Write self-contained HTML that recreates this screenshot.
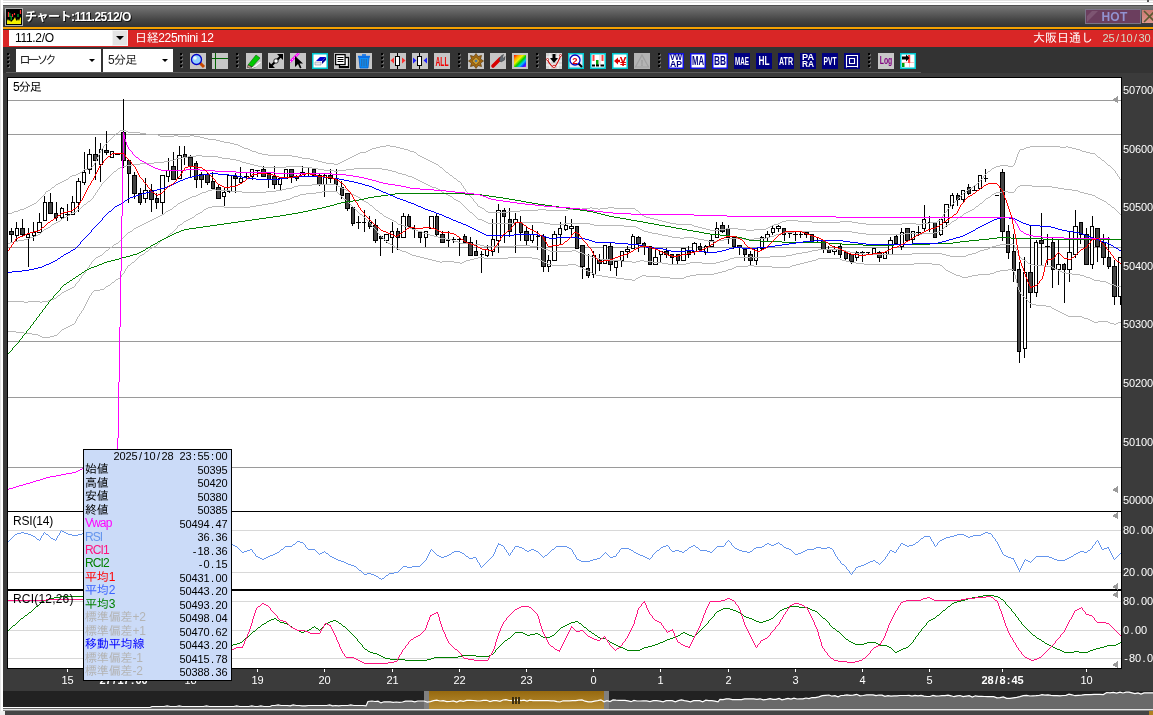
<!DOCTYPE html>
<html lang="ja"><head><meta charset="utf-8"><title>チャート:111.2512/O</title>
<style>
*{margin:0;padding:0;box-sizing:border-box}
html,body{width:1153px;height:715px;overflow:hidden;background:#3b3b3b}
body{position:relative;font-family:"Liberation Sans","IPAGothic",sans-serif;font-size:12px;line-height:1}
div,i,svg,span{position:absolute;display:block}
#top0{left:0;top:0;width:1153px;height:5px;background:#fff}
#top0 b{position:absolute;left:0;width:100%;height:1px;background:#e2e2e2}
#left0{left:0;top:0;width:3px;height:711px;background:#fff;border-left:1px solid #e6e6e6}
#title{left:3px;top:5px;width:1150px;height:22px;background:linear-gradient(#767676,#5c5c5c 35%,#424242 70%,#323232);border-top:1px solid #4e4e4e}
#ttext{left:25px;top:11px;color:#fff;font-weight:bold;font-size:12px;white-space:nowrap;text-shadow:1px 1px 0 #111;letter-spacing:-.5px;font-family:"Liberation Sans","Noto Sans CJK JP",sans-serif}
#orange{left:3px;top:27px;width:1150px;height:2px;background:#f5a100}
#dk{left:3px;top:29px;width:1150px;height:1px;background:#2c2c2c}
#red{left:3px;top:30px;width:1150px;height:17px;background:#d92626}
#code{left:6px;top:0;width:119px;height:16px;background:#fff;color:#000;padding:2px 0 0 6px;font-size:12px;letter-spacing:-.3px}
#codebtn{left:109px;top:0;width:16px;height:16px;background:#e4e4e4;border:1px solid #f4f4f4}
.arr{width:0;height:0;border-left:4px solid transparent;border-right:4px solid transparent;border-top:4px solid #000}
#rname{left:132px;top:2px;color:#fff;white-space:nowrap;font-size:12px;letter-spacing:-.35px}
#rright{right:60px;top:2px;color:#fff;white-space:nowrap;font-size:12px}
#tb{left:3px;top:47px;width:1150px;height:26px;background:#333}
#tbl{left:6px;top:72px;width:915px;height:1px;background:#5c5c5c}
.sel{top:49px;height:23px;background:#fff;color:#222;padding:5px 0 0 6px;font-size:12px}
.ic{top:53px}
.gd{width:2px;height:2px;background:#000;box-shadow:1px 1px 0 #6a6a6a}
#plot{left:7px;top:77px;width:1115px;height:592px;background:#fff;border:1px solid #000}
#csvg{left:0;top:0}
.plab{color:#000;font-size:12px;white-space:nowrap}
#info{left:83px;top:449px;width:149px;height:232px;background:#cbdbf8;border:1px solid #000}
#info .l{left:1px;font-size:12px;white-space:nowrap}
#app{left:0;top:0;width:1153px;height:715px;will-change:transform}
.tk{top:669px;width:1px;height:3px;background:#fff}
#ovbg{left:3px;top:691px;width:1150px;height:18px;background:#222}
#ovl{left:3px;top:709px;width:1150px;height:1px;background:#e8e8e8}
#ovl2{left:3px;top:710px;width:1150px;height:1px;background:#8a8a8a}
#bot{left:0;top:711px;width:1153px;height:4px;background:#454545}
#thumb{left:424px;top:691px;width:185px;height:18px;background:linear-gradient(#96690f,#b98f35);border-left:5px solid #808080;border-right:5px solid #808080}
#gripm i{position:absolute;top:697px;width:1.5px;height:7px;background:#3e3010}
#hot{left:1085px;top:9px;width:56px;height:15px;background:#6b3e5e;border:1px solid #7a7488;color:#9292d0;font-weight:bold;font-size:12px;text-align:center;padding-top:1px;padding-left:3px;letter-spacing:.3px}
#close{left:1142px;top:10px;width:11px;height:13px;background:linear-gradient(#c87870,#e09890)}
</style></head><body>
<div id="app">
<div id="top0"><b style="top:0"></b><b style="top:2px;background:#dedede"></b><b style="top:0;left:1147px;width:2px;height:2px;background:#555"></b></div>
<div id="title"></div>
<svg style="left:5px;top:8px" width="18" height="18" viewBox="0 0 18 18"><rect x=".5" y=".5" width="17" height="17" fill="#000" stroke="#b0b0b0"/><path d="M2 16 V13 L3 11 L4 13 L5 12 L6 14 L8 12 L9 11 L10 9 L11 12 L12 13 L13 11 L14 13 L15 10 L16 9 V16Z" fill="#f4f000"/><path d="M3.5 4V9 M7.5 6V9 M9.5 5V7 M15.5 2V6" stroke="#ff3030" stroke-width="1.2"/><path d="M4.8 5V9 M6.2 8V12 M13 6V9" stroke="#00b030" stroke-width="1.2"/></svg>
<div id="ttext">チャート:111.2512/O</div>
<div id="hot">HOT</div><svg style="left:1087px;top:11px" width="12" height="12"><path d="M0 11 L11 0 L5 0 L0 5Z" fill="#7d5572"/></svg>
<div id="close"></div><svg style="left:1143px;top:10px" width="10" height="13"><path d="M1 1 L12 12 M1 12 L12 1" stroke="#5c5a32" stroke-width="1.6"/></svg>
<div id="orange"></div><div id="dk"></div>
<div id="red"><div id="code">111.2/O</div><div id="codebtn"><i class="arr" style="left:3px;top:5px"></i></div><div id="rname">日経225mini 12</div><div id="rright">大阪日通し</div></div>
<div id="tb"></div><div id="tbl"></div>
<i class="gd" style="left:7px;top:53px"></i><i class="gd" style="left:7px;top:57px"></i><i class="gd" style="left:7px;top:61px"></i><i class="gd" style="left:7px;top:65px"></i>
<div class="sel" style="left:16px;width:85px;padding-left:3px;letter-spacing:-3.3px">ローソク<i class="arr" style="left:73px;top:10px;border-width:3px 3px 0 3px;border-top-width:3px"></i></div>
<div class="sel" style="left:103px;width:70px;padding-left:5px;letter-spacing:-.7px">5分足<i class="arr" style="left:59px;top:10px;border-width:3px 3px 0 3px"></i></div>
<i class="gd" style="left:180px;top:53px"></i><i class="gd" style="left:180px;top:57px"></i><i class="gd" style="left:180px;top:61px"></i><i class="gd" style="left:180px;top:65px"></i><svg class="ic" style="left:190px" width="16" height="16" viewBox="0 0 16 16"><rect width="16" height="16" fill="#c6c6c6"/><line x1="9.5" y1="9.5" x2="14" y2="14" stroke="#c84800" stroke-width="3"/><circle cx="6.5" cy="6.5" r="5" fill="#8fd0ff" stroke="#0000c8" stroke-width="1.3"/><circle cx="5" cy="5" r="1.8" fill="#e8f6ff"/></svg><svg class="ic" style="left:212px" width="16" height="16" viewBox="0 0 16 16"><rect width="16" height="16" fill="#c6c6c6"/><rect x="3" y="0" width="1" height="16" fill="#006400"/><rect x="0" y="5" width="16" height="1" fill="#006400"/></svg><i class="gd" style="left:236px;top:53px"></i><i class="gd" style="left:236px;top:57px"></i><i class="gd" style="left:236px;top:61px"></i><i class="gd" style="left:236px;top:65px"></i><svg class="ic" style="left:246px" width="16" height="16" viewBox="0 0 16 16"><rect width="16" height="16" fill="#c6c6c6"/><path d="M3 14.5 Q7 15.5 9 13.5 T14.5 9" fill="none" stroke="#fff" stroke-width="1.1"/><path d="M3 15.3 Q7 16 9.5 14.2" fill="none" stroke="#444" stroke-width=".5"/><path d="M2 12 L10 2 L14 5 L6 14 Z" fill="#00c800" stroke="#006400" stroke-width=".6"/><path d="M2 12 L6 14 L1.5 14.5Z" fill="#f0c0a0" stroke="#000" stroke-width=".5"/></svg><svg class="ic" style="left:268px" width="16" height="16" viewBox="0 0 16 16"><rect width="16" height="16" fill="#c6c6c6"/><line x1="3" y1="13" x2="13" y2="3" stroke="#000" stroke-width="2.2"/><path d="M15 1 L15 7 L9 1Z M1 15 L1 9 L7 15Z" fill="#000"/><circle cx="8" cy="8" r="2.2" fill="#fff" stroke="#000" stroke-width=".8"/></svg><svg class="ic" style="left:290px" width="16" height="16" viewBox="0 0 16 16"><rect width="16" height="16" fill="#c6c6c6"/><line x1="0" y1="9" x2="9" y2="0" stroke="#ff00ff" stroke-width="2.4"/><line x1="0" y1="9" x2="9" y2="0" stroke="#fff" stroke-width=".8" stroke-dasharray="1.5 1.5"/><path d="M5 3 L5 14 L8 11 L10 15.5 L11.5 14.8 L9.6 10.5 L13 10.5Z" fill="#000"/></svg><svg class="ic" style="left:312px" width="16" height="16" viewBox="0 0 16 16"><rect width="16" height="16" fill="#00c8d0"/><rect x="1.5" y="1.5" width="13" height="13" fill="#fff"/><path d="M4 8 L8 4 L14 4 L10 8Z" fill="#0000d0"/><path d="M10 8 L14 4 L14 7 L10 11Z" fill="#000090"/><path d="M3 9 L9 9 L9 12 L3 12Z" fill="#e8e8f0" stroke="#9090a0" stroke-width=".6"/></svg><svg class="ic" style="left:334px" width="16" height="16" viewBox="0 0 16 16"><rect width="16" height="16" fill="#c6c6c6"/><rect x="5.5" y="4.5" width="9" height="10" fill="#fff" stroke="#000" stroke-width="1.3"/><rect x="5" y="13" width="10" height="2" fill="#000"/><rect x="1.6" y="1.6" width="9.5" height="10" fill="#fff" stroke="#000" stroke-width="1.3"/><path d="M3.5 4.5H9.5 M3.5 6.5H9.5 M3.5 8.5H9.5" stroke="#000" stroke-width="1"/></svg><svg class="ic" style="left:356px" width="16" height="16" viewBox="0 0 16 16"><rect width="16" height="16" fill="#c6c6c6"/><path d="M3 4.5 L13 4.5 L12 15 L4 15Z" fill="#0a90ff" stroke="#0058c8" stroke-width=".8"/><rect x="2" y="2.8" width="12" height="1.8" fill="#0a70e8"/><rect x="6" y="1.2" width="4" height="1.6" fill="#0a70e8"/><path d="M5.8 6V13.5 M8 6V13.5 M10.2 6V13.5" stroke="#44506a" stroke-width=".7"/></svg><i class="gd" style="left:381px;top:53px"></i><i class="gd" style="left:381px;top:57px"></i><i class="gd" style="left:381px;top:61px"></i><i class="gd" style="left:381px;top:65px"></i><svg class="ic" style="left:390px" width="16" height="16" viewBox="0 0 16 16"><rect width="16" height="16" fill="#c6c6c6"/><path d="M0.5 7.5 L4 4.5 L4 10.5Z M15.5 7.5 L12 4.5 L12 10.5Z" fill="#ff3030"/><rect x="7" y="0" width="1" height="16" fill="#000"/><rect x="5.5" y="3.5" width="4" height="9" fill="#fff" stroke="#000" stroke-width="1"/></svg><svg class="ic" style="left:412px" width="16" height="16" viewBox="0 0 16 16"><rect width="16" height="16" fill="#c6c6c6"/><path d="M4.5 7.5 L1 4.5 L1 10.5Z M11.5 7.5 L15 4.5 L15 10.5Z" fill="#2020ff"/><rect x="7" y="0" width="1" height="16" fill="#000"/><rect x="5.5" y="3.5" width="4" height="9" fill="#fff" stroke="#000" stroke-width="1"/></svg><svg class="ic" style="left:434px" width="16" height="16" viewBox="0 0 16 16"><rect width="16" height="16" fill="#c6c6c6"/><text x="8" y="12.5" font-size="12" text-anchor="middle" fill="#f00000" font-family="Liberation Sans, sans-serif" font-weight="bold" textLength="13" lengthAdjust="spacingAndGlyphs">ALL</text></svg><i class="gd" style="left:458px;top:53px"></i><i class="gd" style="left:458px;top:57px"></i><i class="gd" style="left:458px;top:61px"></i><i class="gd" style="left:458px;top:65px"></i><svg class="ic" style="left:468px" width="16" height="16" viewBox="0 0 16 16"><rect width="16" height="16" fill="#c6c6c6"/><path d="M8 0.5 L10 3.5 L13.5 2.5 L12.5 6 L15.5 8 L12.5 10 L13.5 13.5 L10 12.5 L8 15.5 L6 12.5 L2.5 13.5 L3.5 10 L0.5 8 L3.5 6 L2.5 2.5 L6 3.5Z" fill="#a86a10" stroke="#5a3a08" stroke-width=".7"/><rect x="5" y="5" width="6" height="6" fill="#c89a30" stroke="#5a3a08" stroke-width=".6" transform="rotate(45 8 8)"/><circle cx="8" cy="8" r="1.3" fill="#4878a8"/></svg><svg class="ic" style="left:490px" width="16" height="16" viewBox="0 0 16 16"><rect width="16" height="16" fill="#c6c6c6"/><line x1="3" y1="13" x2="10" y2="6" stroke="#d80000" stroke-width="3.6" stroke-linecap="round"/><path d="M9 7 L11 3 L13.5 1.5 L12.5 4 L14 5.5 L15 3.5 L14.5 7 L11 9Z" fill="#606870" stroke="#303438" stroke-width=".5"/></svg><svg class="ic" style="left:512px" width="16" height="16" viewBox="0 0 16 16"><rect width="16" height="16" fill="#c6c6c6"/><defs><linearGradient id="rb" x1="0" y1="0" x2="1" y2="1"><stop offset="0" stop-color="#ff0000"/><stop offset=".2" stop-color="#ffa000"/><stop offset=".38" stop-color="#f0f000"/><stop offset=".55" stop-color="#00d000"/><stop offset=".7" stop-color="#00c0ff"/><stop offset=".85" stop-color="#2020ff"/><stop offset="1" stop-color="#e000e0"/></linearGradient></defs><rect x="2" y="2" width="12" height="12" fill="url(#rb)"/></svg><i class="gd" style="left:536px;top:53px"></i><i class="gd" style="left:536px;top:57px"></i><i class="gd" style="left:536px;top:61px"></i><i class="gd" style="left:536px;top:65px"></i><svg class="ic" style="left:546px" width="16" height="16" viewBox="0 0 16 16"><rect width="16" height="16" fill="#d4d4d4"/><path d="M0 4H16 M0 8H16 M0 12H16 M4 0V16 M8 0V16 M12 0V16" stroke="#fff" stroke-width=".8"/><path d="M1 6 C4 12 6 14 8 14 C11 13 13 6 15 2" fill="none" stroke="#d00000" stroke-width="1.1"/><path d="M6.5 1 H9.5 V5 H12 L8 10 L4 5 H6.5Z" fill="#000"/><circle cx="8" cy="13.5" r="1.3" fill="#fff" stroke="#d00000" stroke-width=".8"/><circle cx="1.5" cy="6.5" r="1" fill="#fff" stroke="#d00000" stroke-width=".7"/><circle cx="14.5" cy="2.5" r="1" fill="#fff" stroke="#d00000" stroke-width=".7"/></svg><svg class="ic" style="left:568px" width="16" height="16" viewBox="0 0 16 16"><rect width="16" height="16" fill="#00c8d0"/><rect x="1.5" y="1.5" width="13" height="13" fill="#e8e8f8"/><line x1="10" y1="10" x2="14" y2="14" stroke="#000" stroke-width="2.2"/><circle cx="7" cy="7" r="5" fill="#fff" stroke="#0000c0" stroke-width="1.3"/><text x="7" y="10.5" font-size="9.5" text-anchor="middle" fill="#e00000" font-family="Liberation Sans, sans-serif" font-weight="bold">2</text></svg><svg class="ic" style="left:590px" width="16" height="16" viewBox="0 0 16 16"><rect width="16" height="16" fill="#00c8d0"/><rect x="1.5" y="1.5" width="13" height="13" fill="#fff"/><rect x="2.5" y="2" width="2" height="6" fill="#ff4040"/><rect x="11.5" y="2" width="2" height="6" fill="#ff4040"/><rect x="6" y="7" width="2.5" height="5" fill="#00a000"/><rect x="9.5" y="2" width="1" height="10" fill="#d0d0d0"/><rect x="2" y="11.5" width="3" height="2" fill="#000"/><rect x="6" y="11.5" width="3" height="2" fill="#000"/><rect x="10.5" y="11.5" width="3.5" height="2" fill="#000"/></svg><svg class="ic" style="left:612px" width="16" height="16" viewBox="0 0 16 16"><rect width="16" height="16" fill="#00c8d0"/><rect x="1.5" y="1.5" width="13" height="13" fill="#fff"/><path d="M2 8 L6 4.5 L6 6.8 H8 V9.2 H6 V11.5Z" fill="#e00000"/><text x="11" y="13" font-size="12" text-anchor="middle" fill="#e00000" font-family="Liberation Sans, sans-serif" font-weight="bold">¥</text></svg><svg class="ic" style="left:634px" width="16" height="16" viewBox="0 0 16 16"><rect width="16" height="16" fill="#b4b4b4"/><path d="M8 2 L14.5 14 H1.5Z" fill="none" stroke="#a0a0a0" stroke-width="1.2"/><text x="8" y="13" font-size="9" text-anchor="middle" fill="#9a9a9a" font-family="Liberation Sans, sans-serif" font-weight="bold">!</text></svg><i class="gd" style="left:658px;top:53px"></i><i class="gd" style="left:658px;top:57px"></i><i class="gd" style="left:658px;top:61px"></i><i class="gd" style="left:658px;top:65px"></i><svg class="ic" style="left:668px" width="16" height="16" viewBox="0 0 16 16"><rect width="16" height="16" fill="#1010e0"/><rect x="1.5" y="1.5" width="13" height="13" fill="#fff"/><text x="8" y="7.3" font-size="8.5" text-anchor="middle" fill="#000080" font-family="Liberation Sans, sans-serif" font-weight="bold" textLength="12" lengthAdjust="spacingAndGlyphs">VW</text><text x="8" y="14.3" font-size="8.5" text-anchor="middle" fill="#000080" font-family="Liberation Sans, sans-serif" font-weight="bold" textLength="12" lengthAdjust="spacingAndGlyphs">AP</text></svg><svg class="ic" style="left:690px" width="16" height="16" viewBox="0 0 16 16"><rect width="16" height="16" fill="#1010e0"/><rect x="1.5" y="1.5" width="13" height="13" fill="#fff"/><text x="8" y="12.2" font-size="12" text-anchor="middle" fill="#000080" font-family="Liberation Sans, sans-serif" font-weight="bold" textLength="12" lengthAdjust="spacingAndGlyphs">MA</text></svg><svg class="ic" style="left:712px" width="16" height="16" viewBox="0 0 16 16"><rect width="16" height="16" fill="#1010e0"/><rect x="1.5" y="1.5" width="13" height="13" fill="#fff"/><text x="8" y="12.2" font-size="12" text-anchor="middle" fill="#000080" font-family="Liberation Sans, sans-serif" font-weight="bold" textLength="12" lengthAdjust="spacingAndGlyphs">BB</text></svg><svg class="ic" style="left:734px" width="16" height="16" viewBox="0 0 16 16"><rect width="16" height="16" fill="#000080"/><text x="8" y="12.2" font-size="11.5" text-anchor="middle" fill="#fff" font-family="Liberation Sans, sans-serif" font-weight="bold" textLength="14" lengthAdjust="spacingAndGlyphs">MAE</text></svg><svg class="ic" style="left:756px" width="16" height="16" viewBox="0 0 16 16"><rect width="16" height="16" fill="#000080"/><text x="8" y="12.2" font-size="12.5" text-anchor="middle" fill="#fff" font-family="Liberation Sans, sans-serif" font-weight="bold" textLength="11" lengthAdjust="spacingAndGlyphs">HL</text></svg><svg class="ic" style="left:778px" width="16" height="16" viewBox="0 0 16 16"><rect width="16" height="16" fill="#000080"/><text x="8" y="12.2" font-size="11.5" text-anchor="middle" fill="#fff" font-family="Liberation Sans, sans-serif" font-weight="bold" textLength="14" lengthAdjust="spacingAndGlyphs">ATR</text></svg><svg class="ic" style="left:800px" width="16" height="16" viewBox="0 0 16 16"><rect width="16" height="16" fill="#000080"/><text x="8" y="7.3" font-size="8.5" text-anchor="middle" fill="#fff" font-family="Liberation Sans, sans-serif" font-weight="bold" textLength="12" lengthAdjust="spacingAndGlyphs">PA</text><text x="8" y="14.3" font-size="8.5" text-anchor="middle" fill="#fff" font-family="Liberation Sans, sans-serif" font-weight="bold" textLength="12" lengthAdjust="spacingAndGlyphs">RA</text></svg><svg class="ic" style="left:822px" width="16" height="16" viewBox="0 0 16 16"><rect width="16" height="16" fill="#000080"/><text x="8" y="12.2" font-size="11.5" text-anchor="middle" fill="#fff" font-family="Liberation Sans, sans-serif" font-weight="bold" textLength="13" lengthAdjust="spacingAndGlyphs">PVT</text></svg><svg class="ic" style="left:844px" width="16" height="16" viewBox="0 0 16 16"><rect width="16" height="16" fill="#000080"/><path d="M2.5 14.5 V2.5 H13.5 V14.5 M2 13.5H14" fill="none" stroke="#fff" stroke-width="1.1"/><rect x="5.5" y="5.5" width="5" height="5" fill="none" stroke="#fff" stroke-width="1.1"/></svg><i class="gd" style="left:868px;top:53px"></i><i class="gd" style="left:868px;top:57px"></i><i class="gd" style="left:868px;top:61px"></i><i class="gd" style="left:868px;top:65px"></i><svg class="ic" style="left:878px" width="16" height="16" viewBox="0 0 16 16"><rect width="16" height="16" fill="#c8c8c8"/><text x="8" y="11" font-size="11" text-anchor="middle" fill="#800080" font-family="Liberation Sans, sans-serif" font-weight="bold" textLength="12.5" lengthAdjust="spacingAndGlyphs">Log</text></svg><svg class="ic" style="left:900px" width="16" height="16" viewBox="0 0 16 16"><rect width="16" height="16" fill="#00c8d0"/><rect x="1.5" y="1.5" width="13" height="13" fill="#fff"/><path d="M9.5 2V14 M2 9.5H14" stroke="#ffb0b0" stroke-width=".8"/><rect x="8" y="2" width="2.2" height="8" fill="#ff4040"/><rect x="2" y="10" width="2.5" height="4" fill="#00a000"/><path d="M2 3.5 H6 V1.5 L9.5 5 L6 8.5 V6.5 H2Z" fill="#000"/></svg>
<div id="plot"></div>
<svg id="csvg" width="1153" height="715" viewBox="0 0 1153 715" shape-rendering="crispEdges"><defs><clipPath id="cp"><rect x="8" y="78" width="1113" height="590"/></clipPath></defs><g clip-path="url(#cp)">
<rect x="8" y="100" width="1113" height="1" fill="#9a9a9a"/>
<rect x="8" y="134" width="1113" height="1" fill="#9a9a9a"/>
<rect x="8" y="247" width="1113" height="1" fill="#9a9a9a"/>
<rect x="8" y="341" width="1113" height="1" fill="#9a9a9a"/>
<rect x="8" y="397" width="1113" height="1" fill="#9a9a9a"/>
<rect x="8" y="467" width="1113" height="1" fill="#9a9a9a"/>
<rect x="8" y="530" width="1113" height="1" fill="#d8d8d8"/>
<rect x="8" y="572" width="1113" height="1" fill="#d8d8d8"/>
<rect x="8" y="601" width="1113" height="1" fill="#d8d8d8"/>
<rect x="8" y="630" width="1113" height="1" fill="#d8d8d8"/>
<rect x="8" y="658" width="1113" height="1" fill="#d8d8d8"/>
<g><rect x="11" y="228" width="1" height="15" fill="#000"/><rect x="9" y="231" width="5" height="4" fill="#000"/><rect x="10" y="232" width="3" height="2" fill="#444"/><rect x="16" y="222" width="1" height="19" fill="#000"/><rect x="15" y="228" width="4" height="8" fill="#000"/><rect x="16" y="229" width="2" height="6" fill="#fff"/><rect x="22" y="219" width="1" height="17" fill="#000"/><rect x="20" y="228" width="5" height="7" fill="#000"/><rect x="21" y="229" width="3" height="5" fill="#444"/><rect x="28" y="228" width="1" height="39" fill="#000"/><rect x="26" y="234" width="4" height="4" fill="#000"/><rect x="27" y="235" width="2" height="2" fill="#fff"/><rect x="33" y="222" width="1" height="19" fill="#000"/><rect x="32" y="232" width="4" height="4" fill="#000"/><rect x="33" y="233" width="2" height="2" fill="#fff"/><rect x="39" y="213" width="1" height="20" fill="#000"/><rect x="37" y="222" width="5" height="11" fill="#000"/><rect x="38" y="223" width="3" height="9" fill="#fff"/><rect x="44" y="196" width="1" height="25" fill="#000"/><rect x="43" y="202" width="4" height="19" fill="#000"/><rect x="44" y="203" width="2" height="17" fill="#fff"/><rect x="50" y="193" width="1" height="21" fill="#000"/><rect x="48" y="202" width="5" height="12" fill="#000"/><rect x="49" y="203" width="3" height="10" fill="#444"/><rect x="56" y="202" width="1" height="19" fill="#000"/><rect x="54" y="213" width="4" height="5" fill="#000"/><rect x="55" y="214" width="2" height="3" fill="#444"/><rect x="61" y="207" width="1" height="13" fill="#000"/><rect x="60" y="208" width="4" height="10" fill="#000"/><rect x="61" y="209" width="2" height="8" fill="#fff"/><rect x="67" y="204" width="1" height="17" fill="#000"/><rect x="65" y="214" width="5" height="1" fill="#000"/><rect x="72" y="196" width="1" height="19" fill="#000"/><rect x="71" y="202" width="4" height="13" fill="#000"/><rect x="72" y="203" width="2" height="11" fill="#fff"/><rect x="78" y="178" width="1" height="34" fill="#000"/><rect x="76" y="181" width="5" height="22" fill="#000"/><rect x="77" y="182" width="3" height="20" fill="#fff"/><rect x="84" y="152" width="1" height="33" fill="#000"/><rect x="82" y="172" width="4" height="11" fill="#000"/><rect x="83" y="173" width="2" height="9" fill="#fff"/><rect x="89" y="149" width="1" height="25" fill="#000"/><rect x="87" y="154" width="5" height="16" fill="#000"/><rect x="88" y="155" width="3" height="14" fill="#fff"/><rect x="95" y="137" width="1" height="43" fill="#000"/><rect x="93" y="154" width="5" height="7" fill="#000"/><rect x="94" y="155" width="3" height="5" fill="#444"/><rect x="100" y="143" width="1" height="39" fill="#000"/><rect x="99" y="149" width="4" height="16" fill="#000"/><rect x="100" y="150" width="2" height="14" fill="#fff"/><rect x="106" y="131" width="1" height="24" fill="#000"/><rect x="104" y="150" width="5" height="3" fill="#000"/><rect x="105" y="151" width="3" height="1" fill="#444"/><rect x="112" y="151" width="1" height="7" fill="#000"/><rect x="110" y="151" width="4" height="7" fill="#000"/><rect x="111" y="152" width="2" height="5" fill="#fff"/><rect x="115" y="154" width="5" height="1" fill="#000"/><rect x="123" y="99" width="1" height="69" fill="#000"/><rect x="121" y="132" width="5" height="29" fill="#000"/><rect x="122" y="133" width="3" height="27" fill="#444"/><rect x="128" y="160" width="1" height="43" fill="#000"/><rect x="127" y="160" width="4" height="14" fill="#000"/><rect x="128" y="161" width="2" height="12" fill="#444"/><rect x="134" y="172" width="1" height="27" fill="#000"/><rect x="132" y="175" width="5" height="19" fill="#000"/><rect x="133" y="176" width="3" height="17" fill="#444"/><rect x="140" y="188" width="1" height="17" fill="#000"/><rect x="138" y="193" width="4" height="10" fill="#000"/><rect x="139" y="194" width="2" height="8" fill="#444"/><rect x="145" y="178" width="1" height="25" fill="#000"/><rect x="143" y="190" width="5" height="9" fill="#000"/><rect x="144" y="191" width="3" height="7" fill="#fff"/><rect x="151" y="184" width="1" height="28" fill="#000"/><rect x="149" y="190" width="5" height="10" fill="#000"/><rect x="150" y="191" width="3" height="8" fill="#444"/><rect x="156" y="193" width="1" height="16" fill="#000"/><rect x="155" y="198" width="4" height="5" fill="#000"/><rect x="156" y="199" width="2" height="3" fill="#444"/><rect x="162" y="175" width="1" height="40" fill="#000"/><rect x="160" y="175" width="5" height="28" fill="#000"/><rect x="161" y="176" width="3" height="26" fill="#fff"/><rect x="168" y="158" width="1" height="24" fill="#000"/><rect x="166" y="170" width="4" height="7" fill="#000"/><rect x="167" y="171" width="2" height="5" fill="#fff"/><rect x="173" y="152" width="1" height="28" fill="#000"/><rect x="171" y="166" width="5" height="14" fill="#000"/><rect x="172" y="167" width="3" height="12" fill="#444"/><rect x="179" y="146" width="1" height="33" fill="#000"/><rect x="177" y="155" width="5" height="24" fill="#000"/><rect x="178" y="156" width="3" height="22" fill="#fff"/><rect x="184" y="146" width="1" height="19" fill="#000"/><rect x="183" y="154" width="4" height="4" fill="#000"/><rect x="184" y="155" width="2" height="2" fill="#444"/><rect x="190" y="155" width="1" height="22" fill="#000"/><rect x="188" y="157" width="5" height="10" fill="#000"/><rect x="189" y="158" width="3" height="8" fill="#444"/><rect x="196" y="161" width="1" height="27" fill="#000"/><rect x="194" y="163" width="4" height="17" fill="#000"/><rect x="195" y="164" width="2" height="15" fill="#444"/><rect x="201" y="172" width="1" height="16" fill="#000"/><rect x="199" y="174" width="5" height="6" fill="#000"/><rect x="200" y="175" width="3" height="4" fill="#444"/><rect x="207" y="173" width="1" height="12" fill="#000"/><rect x="205" y="174" width="5" height="9" fill="#000"/><rect x="206" y="175" width="3" height="7" fill="#444"/><rect x="212" y="172" width="1" height="17" fill="#000"/><rect x="211" y="181" width="4" height="8" fill="#000"/><rect x="212" y="182" width="2" height="6" fill="#444"/><rect x="218" y="184" width="1" height="15" fill="#000"/><rect x="216" y="187" width="5" height="12" fill="#000"/><rect x="217" y="188" width="3" height="10" fill="#444"/><rect x="224" y="188" width="1" height="18" fill="#000"/><rect x="222" y="192" width="4" height="5" fill="#000"/><rect x="223" y="193" width="2" height="3" fill="#fff"/><rect x="229" y="175" width="1" height="18" fill="#000"/><rect x="227" y="175" width="5" height="17" fill="#000"/><rect x="228" y="176" width="3" height="15" fill="#fff"/><rect x="235" y="173" width="1" height="20" fill="#000"/><rect x="233" y="176" width="5" height="3" fill="#000"/><rect x="234" y="177" width="3" height="1" fill="#444"/><rect x="240" y="167" width="1" height="16" fill="#000"/><rect x="239" y="178" width="4" height="5" fill="#000"/><rect x="240" y="179" width="2" height="3" fill="#fff"/><rect x="246" y="173" width="1" height="6" fill="#000"/><rect x="244" y="176" width="5" height="1" fill="#000"/><rect x="252" y="169" width="1" height="11" fill="#000"/><rect x="250" y="169" width="4" height="8" fill="#000"/><rect x="251" y="170" width="2" height="6" fill="#fff"/><rect x="257" y="170" width="1" height="7" fill="#000"/><rect x="255" y="170" width="5" height="1" fill="#000"/><rect x="263" y="166" width="1" height="11" fill="#000"/><rect x="261" y="169" width="5" height="8" fill="#000"/><rect x="262" y="170" width="3" height="6" fill="#444"/><rect x="268" y="172" width="1" height="16" fill="#000"/><rect x="267" y="173" width="4" height="7" fill="#000"/><rect x="268" y="174" width="2" height="5" fill="#444"/><rect x="274" y="166" width="1" height="23" fill="#000"/><rect x="272" y="176" width="5" height="9" fill="#000"/><rect x="273" y="177" width="3" height="7" fill="#444"/><rect x="280" y="178" width="1" height="12" fill="#000"/><rect x="278" y="178" width="4" height="7" fill="#000"/><rect x="279" y="179" width="2" height="5" fill="#fff"/><rect x="285" y="169" width="1" height="10" fill="#000"/><rect x="284" y="169" width="4" height="10" fill="#000"/><rect x="285" y="170" width="2" height="8" fill="#fff"/><rect x="291" y="169" width="1" height="14" fill="#000"/><rect x="289" y="169" width="5" height="8" fill="#000"/><rect x="290" y="170" width="3" height="6" fill="#444"/><rect x="296" y="175" width="1" height="6" fill="#000"/><rect x="295" y="176" width="4" height="3" fill="#000"/><rect x="296" y="177" width="2" height="1" fill="#444"/><rect x="302" y="166" width="1" height="11" fill="#000"/><rect x="300" y="172" width="5" height="5" fill="#000"/><rect x="301" y="173" width="3" height="3" fill="#fff"/><rect x="308" y="168" width="1" height="9" fill="#000"/><rect x="306" y="173" width="4" height="1" fill="#000"/><rect x="313" y="169" width="1" height="7" fill="#000"/><rect x="312" y="169" width="4" height="7" fill="#000"/><rect x="313" y="170" width="2" height="5" fill="#444"/><rect x="319" y="174" width="1" height="12" fill="#000"/><rect x="317" y="175" width="5" height="10" fill="#000"/><rect x="318" y="176" width="3" height="8" fill="#444"/><rect x="324" y="174" width="1" height="23" fill="#000"/><rect x="323" y="175" width="4" height="10" fill="#000"/><rect x="324" y="176" width="2" height="8" fill="#fff"/><rect x="330" y="169" width="1" height="14" fill="#000"/><rect x="328" y="175" width="5" height="4" fill="#000"/><rect x="329" y="176" width="3" height="2" fill="#444"/><rect x="336" y="169" width="1" height="22" fill="#000"/><rect x="334" y="178" width="4" height="7" fill="#000"/><rect x="335" y="179" width="2" height="5" fill="#444"/><rect x="341" y="181" width="1" height="18" fill="#000"/><rect x="340" y="187" width="4" height="9" fill="#000"/><rect x="341" y="188" width="2" height="7" fill="#444"/><rect x="347" y="193" width="1" height="18" fill="#000"/><rect x="345" y="193" width="5" height="16" fill="#000"/><rect x="346" y="194" width="3" height="14" fill="#444"/><rect x="352" y="207" width="1" height="19" fill="#000"/><rect x="351" y="207" width="4" height="17" fill="#000"/><rect x="352" y="208" width="2" height="15" fill="#444"/><rect x="358" y="216" width="1" height="13" fill="#000"/><rect x="356" y="222" width="5" height="1" fill="#000"/><rect x="364" y="210" width="1" height="22" fill="#000"/><rect x="362" y="222" width="4" height="1" fill="#000"/><rect x="369" y="216" width="1" height="13" fill="#000"/><rect x="368" y="222" width="4" height="5" fill="#000"/><rect x="369" y="223" width="2" height="3" fill="#444"/><rect x="375" y="219" width="1" height="24" fill="#000"/><rect x="373" y="225" width="5" height="16" fill="#000"/><rect x="374" y="226" width="3" height="14" fill="#444"/><rect x="380" y="236" width="1" height="20" fill="#000"/><rect x="379" y="236" width="4" height="3" fill="#000"/><rect x="380" y="237" width="2" height="1" fill="#444"/><rect x="386" y="234" width="1" height="9" fill="#000"/><rect x="384" y="234" width="5" height="7" fill="#000"/><rect x="385" y="235" width="3" height="5" fill="#fff"/><rect x="392" y="222" width="1" height="31" fill="#000"/><rect x="390" y="231" width="4" height="7" fill="#000"/><rect x="391" y="232" width="2" height="5" fill="#fff"/><rect x="397" y="228" width="1" height="22" fill="#000"/><rect x="396" y="231" width="4" height="7" fill="#000"/><rect x="397" y="232" width="2" height="5" fill="#444"/><rect x="403" y="213" width="1" height="25" fill="#000"/><rect x="401" y="216" width="5" height="22" fill="#000"/><rect x="402" y="217" width="3" height="20" fill="#fff"/><rect x="408" y="214" width="1" height="13" fill="#000"/><rect x="407" y="216" width="4" height="11" fill="#000"/><rect x="408" y="217" width="2" height="9" fill="#444"/><rect x="414" y="225" width="1" height="13" fill="#000"/><rect x="412" y="228" width="5" height="1" fill="#000"/><rect x="420" y="231" width="1" height="12" fill="#000"/><rect x="418" y="232" width="4" height="6" fill="#000"/><rect x="419" y="233" width="2" height="4" fill="#444"/><rect x="425" y="231" width="1" height="16" fill="#000"/><rect x="424" y="231" width="4" height="7" fill="#000"/><rect x="425" y="232" width="2" height="5" fill="#fff"/><rect x="431" y="216" width="1" height="13" fill="#000"/><rect x="429" y="216" width="5" height="13" fill="#000"/><rect x="430" y="217" width="3" height="11" fill="#fff"/><rect x="436" y="214" width="1" height="22" fill="#000"/><rect x="435" y="216" width="4" height="19" fill="#000"/><rect x="436" y="217" width="2" height="17" fill="#444"/><rect x="442" y="231" width="1" height="12" fill="#000"/><rect x="440" y="234" width="5" height="9" fill="#000"/><rect x="441" y="235" width="3" height="7" fill="#444"/><rect x="448" y="231" width="1" height="16" fill="#000"/><rect x="446" y="240" width="4" height="1" fill="#000"/><rect x="453" y="237" width="1" height="6" fill="#000"/><rect x="452" y="239" width="4" height="1" fill="#000"/><rect x="459" y="237" width="1" height="19" fill="#000"/><rect x="457" y="239" width="5" height="1" fill="#000"/><rect x="464" y="234" width="1" height="9" fill="#000"/><rect x="463" y="236" width="4" height="7" fill="#000"/><rect x="464" y="237" width="2" height="5" fill="#444"/><rect x="470" y="237" width="1" height="19" fill="#000"/><rect x="468" y="242" width="5" height="14" fill="#000"/><rect x="469" y="243" width="3" height="12" fill="#444"/><rect x="476" y="240" width="1" height="16" fill="#000"/><rect x="474" y="251" width="4" height="5" fill="#000"/><rect x="475" y="252" width="2" height="3" fill="#444"/><rect x="481" y="251" width="1" height="22" fill="#000"/><rect x="480" y="254" width="4" height="1" fill="#000"/><rect x="487" y="245" width="1" height="12" fill="#000"/><rect x="485" y="249" width="4" height="7" fill="#000"/><rect x="486" y="250" width="2" height="5" fill="#fff"/><rect x="492" y="219" width="1" height="37" fill="#000"/><rect x="491" y="239" width="4" height="13" fill="#000"/><rect x="492" y="240" width="2" height="11" fill="#fff"/><rect x="498" y="204" width="1" height="49" fill="#000"/><rect x="496" y="210" width="5" height="31" fill="#000"/><rect x="497" y="211" width="3" height="29" fill="#fff"/><rect x="504" y="208" width="1" height="35" fill="#000"/><rect x="502" y="210" width="4" height="7" fill="#000"/><rect x="503" y="211" width="2" height="5" fill="#444"/><rect x="509" y="208" width="1" height="29" fill="#000"/><rect x="508" y="219" width="4" height="13" fill="#000"/><rect x="509" y="220" width="2" height="11" fill="#444"/><rect x="515" y="213" width="1" height="40" fill="#000"/><rect x="513" y="219" width="5" height="4" fill="#000"/><rect x="514" y="220" width="3" height="2" fill="#fff"/><rect x="520" y="216" width="1" height="25" fill="#000"/><rect x="519" y="222" width="4" height="11" fill="#000"/><rect x="520" y="223" width="2" height="9" fill="#444"/><rect x="526" y="226" width="1" height="20" fill="#000"/><rect x="524" y="231" width="5" height="10" fill="#000"/><rect x="525" y="232" width="3" height="8" fill="#444"/><rect x="532" y="225" width="1" height="18" fill="#000"/><rect x="530" y="234" width="4" height="7" fill="#000"/><rect x="531" y="235" width="2" height="5" fill="#fff"/><rect x="537" y="231" width="1" height="19" fill="#000"/><rect x="536" y="236" width="4" height="1" fill="#000"/><rect x="543" y="234" width="1" height="38" fill="#000"/><rect x="541" y="236" width="5" height="31" fill="#000"/><rect x="542" y="237" width="3" height="29" fill="#444"/><rect x="548" y="255" width="1" height="17" fill="#000"/><rect x="547" y="260" width="4" height="7" fill="#000"/><rect x="548" y="261" width="2" height="5" fill="#fff"/><rect x="554" y="231" width="1" height="30" fill="#000"/><rect x="552" y="234" width="5" height="27" fill="#000"/><rect x="553" y="235" width="3" height="25" fill="#fff"/><rect x="560" y="222" width="1" height="23" fill="#000"/><rect x="558" y="228" width="4" height="7" fill="#000"/><rect x="559" y="229" width="2" height="5" fill="#fff"/><rect x="565" y="216" width="1" height="15" fill="#000"/><rect x="564" y="225" width="4" height="5" fill="#000"/><rect x="565" y="226" width="2" height="3" fill="#fff"/><rect x="571" y="219" width="1" height="18" fill="#000"/><rect x="569" y="226" width="5" height="3" fill="#000"/><rect x="570" y="227" width="3" height="1" fill="#fff"/><rect x="576" y="226" width="1" height="23" fill="#000"/><rect x="575" y="226" width="4" height="23" fill="#000"/><rect x="576" y="227" width="2" height="21" fill="#444"/><rect x="582" y="245" width="1" height="34" fill="#000"/><rect x="580" y="245" width="5" height="22" fill="#000"/><rect x="581" y="246" width="3" height="20" fill="#444"/><rect x="588" y="254" width="1" height="24" fill="#000"/><rect x="586" y="268" width="4" height="8" fill="#000"/><rect x="587" y="269" width="2" height="6" fill="#444"/><rect x="593" y="251" width="1" height="27" fill="#000"/><rect x="592" y="255" width="4" height="20" fill="#000"/><rect x="593" y="256" width="2" height="18" fill="#fff"/><rect x="599" y="254" width="1" height="17" fill="#000"/><rect x="597" y="260" width="5" height="4" fill="#000"/><rect x="598" y="261" width="3" height="2" fill="#444"/><rect x="604" y="245" width="1" height="19" fill="#000"/><rect x="603" y="245" width="4" height="19" fill="#000"/><rect x="604" y="246" width="2" height="17" fill="#fff"/><rect x="610" y="243" width="1" height="28" fill="#000"/><rect x="608" y="246" width="5" height="19" fill="#000"/><rect x="609" y="247" width="3" height="17" fill="#444"/><rect x="616" y="261" width="1" height="15" fill="#000"/><rect x="614" y="261" width="4" height="7" fill="#000"/><rect x="615" y="262" width="2" height="5" fill="#fff"/><rect x="621" y="251" width="1" height="16" fill="#000"/><rect x="620" y="251" width="4" height="10" fill="#000"/><rect x="621" y="252" width="2" height="8" fill="#fff"/><rect x="627" y="246" width="1" height="12" fill="#000"/><rect x="625" y="249" width="5" height="3" fill="#000"/><rect x="626" y="250" width="3" height="1" fill="#fff"/><rect x="632" y="234" width="1" height="15" fill="#000"/><rect x="631" y="236" width="4" height="13" fill="#000"/><rect x="632" y="237" width="2" height="11" fill="#fff"/><rect x="638" y="236" width="1" height="16" fill="#000"/><rect x="636" y="237" width="5" height="7" fill="#000"/><rect x="637" y="238" width="3" height="5" fill="#444"/><rect x="644" y="242" width="1" height="13" fill="#000"/><rect x="642" y="243" width="4" height="4" fill="#000"/><rect x="643" y="244" width="2" height="2" fill="#444"/><rect x="649" y="246" width="1" height="19" fill="#000"/><rect x="648" y="246" width="4" height="19" fill="#000"/><rect x="649" y="247" width="2" height="17" fill="#444"/><rect x="655" y="249" width="1" height="16" fill="#000"/><rect x="653" y="257" width="5" height="8" fill="#000"/><rect x="654" y="258" width="3" height="6" fill="#fff"/><rect x="660" y="251" width="1" height="11" fill="#000"/><rect x="659" y="251" width="4" height="4" fill="#000"/><rect x="660" y="252" width="2" height="2" fill="#fff"/><rect x="666" y="248" width="1" height="10" fill="#000"/><rect x="664" y="251" width="5" height="4" fill="#000"/><rect x="665" y="252" width="3" height="2" fill="#444"/><rect x="672" y="254" width="1" height="11" fill="#000"/><rect x="670" y="254" width="4" height="4" fill="#000"/><rect x="671" y="255" width="2" height="2" fill="#444"/><rect x="677" y="254" width="1" height="11" fill="#000"/><rect x="676" y="254" width="4" height="7" fill="#000"/><rect x="677" y="255" width="2" height="5" fill="#444"/><rect x="683" y="248" width="1" height="13" fill="#000"/><rect x="681" y="248" width="5" height="13" fill="#000"/><rect x="682" y="249" width="3" height="11" fill="#fff"/><rect x="688" y="246" width="1" height="12" fill="#000"/><rect x="687" y="251" width="4" height="4" fill="#000"/><rect x="688" y="252" width="2" height="2" fill="#444"/><rect x="694" y="242" width="1" height="13" fill="#000"/><rect x="692" y="243" width="5" height="9" fill="#000"/><rect x="693" y="244" width="3" height="7" fill="#fff"/><rect x="700" y="243" width="1" height="9" fill="#000"/><rect x="698" y="246" width="4" height="4" fill="#000"/><rect x="699" y="247" width="2" height="2" fill="#444"/><rect x="705" y="245" width="1" height="10" fill="#000"/><rect x="704" y="246" width="4" height="7" fill="#000"/><rect x="705" y="247" width="2" height="5" fill="#fff"/><rect x="711" y="234" width="1" height="13" fill="#000"/><rect x="709" y="240" width="5" height="7" fill="#000"/><rect x="710" y="241" width="3" height="5" fill="#fff"/><rect x="716" y="222" width="1" height="16" fill="#000"/><rect x="715" y="228" width="4" height="10" fill="#000"/><rect x="716" y="229" width="2" height="8" fill="#fff"/><rect x="722" y="222" width="1" height="11" fill="#000"/><rect x="720" y="225" width="5" height="7" fill="#000"/><rect x="721" y="226" width="3" height="5" fill="#444"/><rect x="728" y="225" width="1" height="19" fill="#000"/><rect x="726" y="228" width="4" height="10" fill="#000"/><rect x="727" y="229" width="2" height="8" fill="#444"/><rect x="733" y="236" width="1" height="13" fill="#000"/><rect x="732" y="237" width="4" height="10" fill="#000"/><rect x="733" y="238" width="2" height="8" fill="#444"/><rect x="739" y="245" width="1" height="10" fill="#000"/><rect x="737" y="245" width="5" height="3" fill="#000"/><rect x="738" y="246" width="3" height="1" fill="#444"/><rect x="744" y="248" width="1" height="13" fill="#000"/><rect x="743" y="249" width="4" height="6" fill="#000"/><rect x="744" y="250" width="2" height="4" fill="#444"/><rect x="750" y="251" width="1" height="14" fill="#000"/><rect x="748" y="254" width="5" height="7" fill="#000"/><rect x="749" y="255" width="3" height="5" fill="#444"/><rect x="756" y="248" width="1" height="17" fill="#000"/><rect x="754" y="248" width="4" height="13" fill="#000"/><rect x="755" y="249" width="2" height="11" fill="#fff"/><rect x="761" y="236" width="1" height="14" fill="#000"/><rect x="760" y="237" width="4" height="12" fill="#000"/><rect x="761" y="238" width="2" height="10" fill="#fff"/><rect x="767" y="231" width="1" height="10" fill="#000"/><rect x="765" y="234" width="5" height="4" fill="#000"/><rect x="766" y="235" width="3" height="2" fill="#fff"/><rect x="772" y="225" width="1" height="10" fill="#000"/><rect x="771" y="228" width="4" height="5" fill="#000"/><rect x="772" y="229" width="2" height="3" fill="#fff"/><rect x="778" y="225" width="1" height="7" fill="#000"/><rect x="776" y="226" width="5" height="3" fill="#000"/><rect x="777" y="227" width="3" height="1" fill="#fff"/><rect x="784" y="228" width="1" height="13" fill="#000"/><rect x="782" y="228" width="4" height="7" fill="#000"/><rect x="783" y="229" width="2" height="5" fill="#444"/><rect x="789" y="231" width="1" height="7" fill="#000"/><rect x="788" y="233" width="4" height="1" fill="#000"/><rect x="795" y="232" width="1" height="9" fill="#000"/><rect x="793" y="234" width="5" height="1" fill="#000"/><rect x="800" y="232" width="1" height="6" fill="#000"/><rect x="799" y="234" width="4" height="1" fill="#000"/><rect x="806" y="232" width="1" height="6" fill="#000"/><rect x="804" y="232" width="5" height="3" fill="#000"/><rect x="805" y="233" width="3" height="1" fill="#444"/><rect x="812" y="234" width="1" height="8" fill="#000"/><rect x="810" y="234" width="4" height="8" fill="#000"/><rect x="811" y="235" width="2" height="6" fill="#444"/><rect x="817" y="237" width="1" height="5" fill="#000"/><rect x="816" y="240" width="4" height="1" fill="#000"/><rect x="823" y="240" width="1" height="13" fill="#000"/><rect x="821" y="240" width="5" height="10" fill="#000"/><rect x="822" y="241" width="3" height="8" fill="#444"/><rect x="828" y="246" width="1" height="7" fill="#000"/><rect x="827" y="249" width="4" height="4" fill="#000"/><rect x="828" y="250" width="2" height="2" fill="#444"/><rect x="834" y="246" width="1" height="9" fill="#000"/><rect x="832" y="249" width="5" height="3" fill="#000"/><rect x="833" y="250" width="3" height="1" fill="#fff"/><rect x="840" y="243" width="1" height="15" fill="#000"/><rect x="838" y="246" width="4" height="9" fill="#000"/><rect x="839" y="247" width="2" height="7" fill="#444"/><rect x="845" y="251" width="1" height="10" fill="#000"/><rect x="844" y="252" width="4" height="7" fill="#000"/><rect x="845" y="253" width="2" height="5" fill="#444"/><rect x="851" y="254" width="1" height="10" fill="#000"/><rect x="849" y="254" width="5" height="8" fill="#000"/><rect x="850" y="255" width="3" height="6" fill="#444"/><rect x="856" y="251" width="1" height="10" fill="#000"/><rect x="855" y="252" width="4" height="6" fill="#000"/><rect x="856" y="253" width="2" height="4" fill="#fff"/><rect x="862" y="251" width="1" height="11" fill="#000"/><rect x="860" y="252" width="5" height="1" fill="#000"/><rect x="868" y="252" width="1" height="3" fill="#000"/><rect x="866" y="252" width="4" height="1" fill="#000"/><rect x="873" y="248" width="1" height="7" fill="#000"/><rect x="872" y="248" width="4" height="7" fill="#000"/><rect x="873" y="249" width="2" height="5" fill="#fff"/><rect x="879" y="251" width="1" height="11" fill="#000"/><rect x="877" y="252" width="5" height="6" fill="#000"/><rect x="878" y="253" width="3" height="4" fill="#444"/><rect x="884" y="252" width="1" height="7" fill="#000"/><rect x="883" y="252" width="4" height="7" fill="#000"/><rect x="884" y="253" width="2" height="5" fill="#fff"/><rect x="890" y="237" width="1" height="18" fill="#000"/><rect x="888" y="240" width="5" height="15" fill="#000"/><rect x="889" y="241" width="3" height="13" fill="#fff"/><rect x="896" y="234" width="1" height="10" fill="#000"/><rect x="894" y="236" width="4" height="8" fill="#000"/><rect x="895" y="237" width="2" height="6" fill="#444"/><rect x="901" y="228" width="1" height="22" fill="#000"/><rect x="900" y="232" width="4" height="15" fill="#000"/><rect x="901" y="233" width="2" height="13" fill="#fff"/><rect x="907" y="228" width="1" height="13" fill="#000"/><rect x="905" y="228" width="5" height="13" fill="#000"/><rect x="906" y="229" width="3" height="11" fill="#444"/><rect x="912" y="231" width="1" height="12" fill="#000"/><rect x="911" y="231" width="4" height="9" fill="#000"/><rect x="912" y="232" width="2" height="7" fill="#fff"/><rect x="918" y="226" width="1" height="10" fill="#000"/><rect x="916" y="232" width="5" height="1" fill="#000"/><rect x="924" y="205" width="1" height="26" fill="#000"/><rect x="922" y="219" width="4" height="10" fill="#000"/><rect x="923" y="220" width="2" height="8" fill="#fff"/><rect x="929" y="216" width="1" height="16" fill="#000"/><rect x="928" y="222" width="4" height="1" fill="#000"/><rect x="935" y="222" width="1" height="16" fill="#000"/><rect x="933" y="222" width="4" height="16" fill="#000"/><rect x="934" y="223" width="2" height="14" fill="#444"/><rect x="940" y="219" width="1" height="17" fill="#000"/><rect x="939" y="219" width="4" height="16" fill="#000"/><rect x="940" y="220" width="2" height="14" fill="#fff"/><rect x="946" y="204" width="1" height="23" fill="#000"/><rect x="944" y="204" width="5" height="19" fill="#000"/><rect x="945" y="205" width="3" height="17" fill="#fff"/><rect x="952" y="193" width="1" height="16" fill="#000"/><rect x="950" y="195" width="4" height="11" fill="#000"/><rect x="951" y="196" width="2" height="9" fill="#fff"/><rect x="957" y="193" width="1" height="13" fill="#000"/><rect x="956" y="195" width="4" height="5" fill="#000"/><rect x="957" y="196" width="2" height="3" fill="#444"/><rect x="963" y="190" width="1" height="12" fill="#000"/><rect x="961" y="190" width="4" height="10" fill="#000"/><rect x="962" y="191" width="2" height="8" fill="#fff"/><rect x="968" y="184" width="1" height="11" fill="#000"/><rect x="967" y="187" width="4" height="7" fill="#000"/><rect x="968" y="188" width="2" height="5" fill="#444"/><rect x="974" y="185" width="1" height="6" fill="#000"/><rect x="972" y="190" width="5" height="1" fill="#000"/><rect x="980" y="175" width="1" height="14" fill="#000"/><rect x="978" y="175" width="4" height="14" fill="#000"/><rect x="979" y="176" width="2" height="12" fill="#fff"/><rect x="985" y="169" width="1" height="13" fill="#000"/><rect x="984" y="178" width="4" height="1" fill="#000"/><rect x="995" y="195" width="4" height="1" fill="#000"/><rect x="1002" y="169" width="1" height="72" fill="#000"/><rect x="1000" y="172" width="5" height="60" fill="#000"/><rect x="1001" y="173" width="3" height="58" fill="#444"/><rect x="1008" y="225" width="1" height="34" fill="#000"/><rect x="1006" y="231" width="4" height="22" fill="#000"/><rect x="1007" y="232" width="2" height="20" fill="#444"/><rect x="1013" y="234" width="1" height="48" fill="#000"/><rect x="1012" y="251" width="4" height="20" fill="#000"/><rect x="1013" y="252" width="2" height="18" fill="#444"/><rect x="1019" y="262" width="1" height="101" fill="#000"/><rect x="1017" y="269" width="4" height="83" fill="#000"/><rect x="1018" y="270" width="2" height="81" fill="#444"/><rect x="1024" y="257" width="1" height="101" fill="#000"/><rect x="1023" y="272" width="4" height="77" fill="#000"/><rect x="1024" y="273" width="2" height="75" fill="#fff"/><rect x="1030" y="225" width="1" height="83" fill="#000"/><rect x="1028" y="272" width="5" height="21" fill="#000"/><rect x="1029" y="273" width="3" height="19" fill="#444"/><rect x="1036" y="240" width="1" height="57" fill="#000"/><rect x="1034" y="242" width="4" height="51" fill="#000"/><rect x="1035" y="243" width="2" height="49" fill="#fff"/><rect x="1041" y="213" width="1" height="52" fill="#000"/><rect x="1039" y="240" width="5" height="4" fill="#000"/><rect x="1040" y="241" width="3" height="2" fill="#444"/><rect x="1047" y="234" width="1" height="31" fill="#000"/><rect x="1045" y="246" width="5" height="1" fill="#000"/><rect x="1052" y="238" width="1" height="50" fill="#000"/><rect x="1051" y="242" width="4" height="28" fill="#000"/><rect x="1052" y="243" width="2" height="26" fill="#444"/><rect x="1058" y="239" width="1" height="46" fill="#000"/><rect x="1056" y="264" width="5" height="6" fill="#000"/><rect x="1057" y="265" width="3" height="4" fill="#fff"/><rect x="1064" y="263" width="1" height="40" fill="#000"/><rect x="1062" y="264" width="4" height="6" fill="#000"/><rect x="1063" y="265" width="2" height="4" fill="#444"/><rect x="1069" y="232" width="1" height="50" fill="#000"/><rect x="1067" y="252" width="5" height="18" fill="#000"/><rect x="1068" y="253" width="3" height="16" fill="#fff"/><rect x="1075" y="210" width="1" height="48" fill="#000"/><rect x="1073" y="226" width="5" height="29" fill="#000"/><rect x="1074" y="227" width="3" height="27" fill="#fff"/><rect x="1080" y="222" width="1" height="22" fill="#000"/><rect x="1079" y="222" width="4" height="13" fill="#000"/><rect x="1080" y="223" width="2" height="11" fill="#444"/><rect x="1086" y="228" width="1" height="37" fill="#000"/><rect x="1084" y="234" width="5" height="31" fill="#000"/><rect x="1085" y="235" width="3" height="29" fill="#444"/><rect x="1092" y="216" width="1" height="53" fill="#000"/><rect x="1090" y="226" width="4" height="39" fill="#000"/><rect x="1091" y="227" width="2" height="37" fill="#fff"/><rect x="1097" y="228" width="1" height="34" fill="#000"/><rect x="1095" y="228" width="5" height="19" fill="#000"/><rect x="1096" y="229" width="3" height="17" fill="#444"/><rect x="1103" y="234" width="1" height="31" fill="#000"/><rect x="1101" y="242" width="5" height="16" fill="#000"/><rect x="1102" y="243" width="3" height="14" fill="#444"/><rect x="1108" y="237" width="1" height="32" fill="#000"/><rect x="1107" y="257" width="4" height="10" fill="#000"/><rect x="1108" y="258" width="2" height="8" fill="#444"/><rect x="1114" y="260" width="1" height="45" fill="#000"/><rect x="1112" y="266" width="5" height="31" fill="#000"/><rect x="1113" y="267" width="3" height="29" fill="#444"/><rect x="1120" y="257" width="1" height="48" fill="#000"/><rect x="1118" y="257" width="4" height="40" fill="#000"/><rect x="1119" y="258" width="2" height="38" fill="#fff"/></g>
<path d="M120 130.5h6M119.5 131v1M126 131.5h2M118.5 132v1M128 132.5h12M116 133.5h2M140 133.5h6M115.5 134v1M146 134.5h12M114.5 135v1M158 135.5h2M174 135.5h4M190 135.5h4M113.5 136v1M160 136.5h14M178 136.5h12M194 136.5h6M112.5 137v1M200 137.5h4M111.5 138v1M204 138.5h4M110.5 139v1M208 139.5h8M109.5 140v1M216 140.5h4M108.5 141v1M220 141.5h4M107.5 142v1M224 142.5h6M106.5 143v1M230 143.5h4M105.5 144v1M234 144.5h4M104.5 145v1M238 145.5h2M386 145.5h4M103.5 146v2M240 146.5h2M380 146.5h6M390 146.5h6M1030 146.5h30M1066 146.5h2M242 147.5h2M376 147.5h4M396 147.5h4M1026 147.5h4M1060 147.5h6M1068 147.5h4M102.5 148v1M244 148.5h4M372 148.5h4M400 148.5h4M1024 148.5h2M1072 148.5h4M101.5 149v2M248 149.5h2M370 149.5h2M404 149.5h4M1020 149.5h4M1076 149.5h4M250 150.5h2M368 150.5h2M408 150.5h2M1019.5 150v2M1080 150.5h2M100.5 151v2M252 151.5h4M366 151.5h2M410 151.5h4M1082 151.5h4M256 152.5h2M360 152.5h6M414 152.5h2M1018.5 152v2M1086 152.5h4M99.5 153v2M258 153.5h4M358 153.5h2M416.5 153v1M1090 153.5h5M262 154.5h6M356 154.5h2M417.5 154v1M1017.5 154v3M1095.5 154v1M98.5 155v2M268 155.5h24M354 155.5h2M418 155.5h2M1096.5 155v1M292 156.5h6M352 156.5h2M420 156.5h2M1097.5 156v1M97.5 157v2M298 157.5h4M350 157.5h2M422 157.5h2M1016.5 157v3M1098 157.5h2M302 158.5h8M348 158.5h2M424 158.5h2M1100.5 158v1M96.5 159v2M310 159.5h4M346 159.5h2M426 159.5h2M1101.5 159v1M314 160.5h4M344 160.5h2M428 160.5h2M1015.5 160v3M1102 160.5h2M95.5 161v2M318 161.5h4M342 161.5h2M430 161.5h2M1104.5 161v1M322 162.5h4M340 162.5h2M432 162.5h2M1105.5 162v1M94.5 163v2M326 163.5h8M338 163.5h2M434 163.5h2M1014.5 163v2M1106.5 163v1M334 164.5h4M436 164.5h2M1107.5 164v1M93.5 165v1M438.5 165v1M1000 165.5h8M1013.5 165v1M1108 165.5h2M92.5 166v1M439.5 166v1M996 166.5h4M1008 166.5h5M1110.5 166v1M91.5 167v1M440 167.5h2M994 167.5h2M1111.5 167v1M88 168.5h3M442.5 168v1M992 168.5h2M1112.5 168v1M84 169.5h4M443.5 169v1M991.5 169v1M1113.5 169v1M83.5 170v1M444.5 170v1M990.5 170v1M1114.5 170v1M82.5 171v1M445.5 171v1M988 171.5h2M1115.5 171v2M80 172.5h2M446 172.5h2M987.5 172v1M78 173.5h2M448.5 173v1M986.5 173v1M1116.5 173v1M76 174.5h2M449.5 174v1M985.5 174v1M1117.5 174v2M72 175.5h4M450 175.5h2M984.5 175v1M70 176.5h2M452.5 176v1M983.5 176v2M1118.5 176v1M69.5 177v1M453.5 177v1M1119.5 177v2M68.5 178v1M454 178.5h2M982.5 178v1M66 179.5h2M456.5 179v1M981.5 179v1M1120.5 179v1M64 180.5h2M457.5 180v1M980.5 180v1M62 181.5h2M458 181.5h2M979.5 181v1M60 182.5h2M460.5 182v1M978.5 182v1M58 183.5h2M461.5 183v2M977.5 183v1M56 184.5h2M976.5 184v1M55.5 185v1M462.5 185v1M974 185.5h2M54.5 186v1M463.5 186v2M973.5 186v1M52 187.5h2M972.5 187v1M51.5 188v1M464.5 188v1M970 188.5h2M50.5 189v1M465.5 189v2M968 189.5h2M48 190.5h2M967.5 190v1M46 191.5h2M466.5 191v1M966.5 191v1M45.5 192v2M467.5 192v1M964 192.5h2M468.5 193v1M963.5 193v1M44.5 194v1M469.5 194v2M962.5 194v1M43.5 195v1M961.5 195v1M42.5 196v1M470.5 196v1M960.5 196v1M41.5 197v1M471.5 197v1M959.5 197v1M40.5 198v1M472.5 198v1M958.5 198v1M39.5 199v1M473.5 199v2M957.5 199v1M38.5 200v1M956.5 200v1M37.5 201v1M474.5 201v1M955.5 201v1M36.5 202v1M475.5 202v1M954.5 202v1M34 203.5h2M476.5 203v1M953.5 203v1M32 204.5h2M477.5 204v2M952.5 204v1M30 205.5h2M951.5 205v1M28 206.5h2M478 206.5h2M950.5 206v1M26 207.5h2M480 207.5h2M590 207.5h2M608 207.5h6M949.5 207v1M24 208.5h2M482 208.5h2M582 208.5h8M592 208.5h6M600 208.5h8M614 208.5h21M948.5 208v1M20 209.5h4M484.5 209v1M538 209.5h8M568 209.5h14M598 209.5h2M635.5 209v1M947.5 209v2M18 210.5h2M485.5 210v1M520 210.5h18M546 210.5h22M636 210.5h2M14 211.5h4M486 211.5h2M508 211.5h12M638.5 211v1M946.5 211v1M12 212.5h2M488 212.5h20M639.5 212v1M945.5 212v1M8 213.5h4M640.5 213v1M944.5 213v1M641.5 214v1M943.5 214v2M642 215.5h2M644 216.5h2M942.5 216v1M646 217.5h4M941.5 217v2M650 218.5h4M654 219.5h4M940.5 219v1M658 220.5h4M786 220.5h12M938 220.5h2M662 221.5h4M782 221.5h4M798 221.5h14M840 221.5h12M937.5 221v1M666 222.5h4M780 222.5h2M812 222.5h28M852 222.5h6M930 222.5h7M670 223.5h6M778 223.5h2M858 223.5h8M902 223.5h14M922 223.5h8M676 224.5h16M774 224.5h4M866 224.5h36M916 224.5h6M692 225.5h2M772 225.5h2M694 226.5h4M770 226.5h2M698 227.5h4M768 227.5h2M702 228.5h4M726 228.5h12M766 228.5h2M706 229.5h4M720 229.5h6M738 229.5h8M754 229.5h12M710 230.5h10M746 230.5h8" fill="none" stroke="#b8b8b8" stroke-width="1" />
<path d="M196 155.5h6M188 156.5h8M202 156.5h16M182 157.5h6M218 157.5h4M176 158.5h6M222 158.5h8M174 159.5h2M230 159.5h6M170 160.5h4M236 160.5h4M164 161.5h6M240 161.5h2M154 162.5h10M242 162.5h4M140 163.5h14M246 163.5h4M132 164.5h8M250 164.5h4M126 165.5h6M254 165.5h4M122 166.5h4M258 166.5h4M286 166.5h16M120 167.5h2M262 167.5h24M302 167.5h10M118 168.5h2M312 168.5h6M354 168.5h28M117.5 169v1M318 169.5h6M346 169.5h8M382 169.5h6M116.5 170v1M324 170.5h10M338 170.5h8M388 170.5h4M114 171.5h2M334 171.5h4M392 171.5h4M113.5 172v1M396 172.5h2M112.5 173v1M398 173.5h4M111.5 174v1M402 174.5h4M110.5 175v1M406 175.5h2M109.5 176v1M408 176.5h4M108.5 177v1M412 177.5h2M107.5 178v1M414 178.5h2M106.5 179v1M416 179.5h2M105.5 180v1M418 180.5h2M104.5 181v1M420 181.5h2M103.5 182v1M422 182.5h2M102.5 183v1M424 183.5h2M101.5 184v2M426 184.5h2M428 185.5h2M1020 185.5h12M100.5 186v1M430 186.5h2M1018 186.5h2M1032 186.5h20M99.5 187v2M432 187.5h4M1017.5 187v1M1052 187.5h6M436 188.5h2M1016.5 188v1M1058 188.5h6M98.5 189v1M438 189.5h2M1015.5 189v2M1064 189.5h8M97.5 190v2M440.5 190v1M1072 190.5h6M441.5 191v1M1002 191.5h6M1014.5 191v1M1078 191.5h2M96.5 192v1M442 192.5h2M996 192.5h6M1008 192.5h6M1080 192.5h4M95.5 193v2M444 193.5h2M994 193.5h2M1084 193.5h4M446 194.5h2M992 194.5h2M1088 194.5h4M94.5 195v1M448 195.5h2M991.5 195v1M1092 195.5h3M93.5 196v2M450 196.5h2M990.5 196v1M1095.5 196v1M452.5 197v1M988 197.5h2M1096 197.5h2M92.5 198v1M453.5 198v1M986 198.5h2M1098 198.5h2M91.5 199v1M454 199.5h2M985.5 199v1M1100 199.5h2M90.5 200v1M456 200.5h2M984.5 200v1M1102 200.5h2M88 201.5h2M458 201.5h2M983.5 201v1M1104 201.5h2M87.5 202v1M460.5 202v1M982.5 202v1M1106.5 202v1M86.5 203v1M461.5 203v1M980 203.5h2M1107.5 203v1M84 204.5h2M462.5 204v1M979.5 204v1M1108 204.5h2M83.5 205v1M463.5 205v1M978.5 205v1M1110.5 205v1M82.5 206v1M464.5 206v1M976 206.5h2M1111.5 206v1M81.5 207v1M465.5 207v1M975.5 207v1M1112 207.5h2M80.5 208v1M466.5 208v1M974.5 208v1M1114.5 208v1M78 209.5h2M467.5 209v1M972 209.5h2M1115.5 209v1M77.5 210v1M468.5 210v1M970 210.5h2M1116.5 210v1M76.5 211v1M469.5 211v1M968 211.5h2M1117.5 211v1M72 212.5h4M470 212.5h2M966 212.5h2M1118.5 212v1M71.5 213v1M472.5 213v1M964 213.5h2M1119.5 213v1M70.5 214v1M473.5 214v1M963.5 214v1M1120.5 214v1M68 215.5h2M474.5 215v1M962.5 215v1M66 216.5h2M475.5 216v1M960 216.5h2M64 217.5h2M476.5 217v1M958 217.5h2M62 218.5h2M477.5 218v1M957.5 218v1M61.5 219v1M478 219.5h4M956.5 219v1M60.5 220v1M482 220.5h2M954 220.5h2M58 221.5h2M484 221.5h2M952 221.5h2M56 222.5h2M486 222.5h2M514 222.5h30M951.5 222v1M54 223.5h2M488 223.5h26M544 223.5h6M564 223.5h26M950.5 223v1M52 224.5h2M550 224.5h14M590 224.5h4M948 224.5h2M51.5 225v1M594 225.5h30M946 225.5h2M50.5 226v1M624 226.5h12M945.5 226v1M48 227.5h2M636 227.5h2M944.5 227v1M46 228.5h2M638 228.5h2M943.5 228v1M44 229.5h2M640 229.5h2M942.5 229v1M43.5 230v1M642 230.5h2M940 230.5h2M42.5 231v1M644 231.5h4M794 231.5h58M938 231.5h2M41.5 232v1M648 232.5h4M784 232.5h10M852 232.5h6M934 232.5h4M40.5 233v1M652 233.5h6M780 233.5h4M858 233.5h8M904 233.5h12M922 233.5h12M38 234.5h2M658 234.5h4M776 234.5h4M866 234.5h38M916 234.5h6M36 235.5h2M662 235.5h6M774 235.5h2M34 236.5h2M668 236.5h4M770 236.5h4M30 237.5h4M672 237.5h8M684 237.5h10M766 237.5h4M28 238.5h2M680 238.5h4M694 238.5h4M728 238.5h16M754 238.5h12M24 239.5h4M698 239.5h6M724 239.5h4M744 239.5h10M18 240.5h6M704 240.5h4M718 240.5h6M14 241.5h4M708 241.5h10M10 242.5h4M8 243.5h2" fill="none" stroke="#b8b8b8" stroke-width="1" />
<path d="M312 184.5h24M298 185.5h14M336 185.5h2M294 186.5h4M338 186.5h2M292 187.5h2M340 187.5h2M286 188.5h6M342 188.5h2M212 189.5h4M282 189.5h4M344 189.5h2M208 190.5h4M216 190.5h14M276 190.5h6M346 190.5h2M206 191.5h2M230 191.5h12M266 191.5h10M348 191.5h2M202 192.5h4M242 192.5h24M350.5 192v1M200 193.5h2M351.5 193v1M198 194.5h2M352 194.5h2M196 195.5h2M354 195.5h2M192 196.5h4M356 196.5h2M190 197.5h2M358 197.5h2M188 198.5h2M360.5 198v1M186 199.5h2M361.5 199v1M184 200.5h2M362 200.5h2M182 201.5h2M364 201.5h2M180 202.5h2M366 202.5h2M178 203.5h2M368.5 203v1M177.5 204v1M369.5 204v1M176.5 205v1M370 205.5h2M174 206.5h2M372.5 206v1M173.5 207v1M373.5 207v1M172.5 208v1M374.5 208v1M170 209.5h2M375.5 209v1M168 210.5h2M376 210.5h2M166 211.5h2M378.5 211v1M165.5 212v1M379.5 212v1M164.5 213v1M380 213.5h2M162 214.5h2M382.5 214v1M160 215.5h2M383.5 215v1M158 216.5h2M384 216.5h2M156 217.5h2M386 217.5h2M154 218.5h2M388 218.5h2M152 219.5h2M390 219.5h2M150 220.5h2M392 220.5h2M148 221.5h2M394 221.5h2M146 222.5h2M396.5 222v1M144 223.5h2M397.5 223v1M142 224.5h2M398 224.5h4M140 225.5h2M402 225.5h2M138 226.5h2M404 226.5h4M136 227.5h2M408 227.5h2M134 228.5h2M410 228.5h2M133.5 229v1M412 229.5h4M132.5 230v1M416 230.5h2M130 231.5h2M418 231.5h4M128 232.5h2M422 232.5h2M127.5 233v1M424 233.5h4M126.5 234v1M428 234.5h2M125.5 235v1M430 235.5h4M124.5 236v1M434 236.5h4M123.5 237v1M438 237.5h2M122.5 238v1M440 238.5h6M121.5 239v1M446 239.5h6M120.5 240v1M452 240.5h2M119.5 241v1M454 241.5h4M118.5 242v1M458 242.5h2M116 243.5h2M460 243.5h12M1012.5 243v1M114 244.5h2M472 244.5h8M1000 244.5h12M1013.5 244v1M113.5 245v1M480 245.5h4M514 245.5h16M996 245.5h4M1014.5 245v2M112.5 246v1M484 246.5h30M530 246.5h8M992 246.5h4M110 247.5h2M538 247.5h4M990 247.5h2M1015.5 247v2M109.5 248v1M542 248.5h2M988 248.5h2M108.5 249v1M544 249.5h4M818 249.5h24M984 249.5h4M1016.5 249v2M106 250.5h2M548 250.5h2M572 250.5h4M812 250.5h6M842 250.5h4M980 250.5h4M105.5 251v1M550 251.5h22M576 251.5h2M808 251.5h4M846 251.5h4M978 251.5h2M1017.5 251v2M104.5 252v1M578 252.5h4M802 252.5h6M850 252.5h6M976 252.5h2M103.5 253v1M582 253.5h2M796 253.5h6M856 253.5h8M912 253.5h30M972 253.5h4M1018.5 253v2M102.5 254v1M584 254.5h2M792 254.5h4M864 254.5h48M942 254.5h4M968 254.5h4M100 255.5h2M586 255.5h4M786 255.5h6M946 255.5h4M966 255.5h2M1019.5 255v2M98 256.5h2M590 256.5h2M750 256.5h2M770 256.5h16M950 256.5h16M96 257.5h2M592 257.5h4M734 257.5h16M752 257.5h18M1020.5 257v1M95.5 258v1M596 258.5h4M730 258.5h4M1021.5 258v1M94.5 259v1M600 259.5h10M728 259.5h2M1022 259.5h2M93.5 260v1M610 260.5h12M640 260.5h4M724 260.5h4M1024 260.5h2M92.5 261v1M622 261.5h10M636 261.5h4M644 261.5h8M720 261.5h4M1026.5 261v1M91.5 262v2M632 262.5h4M652 262.5h10M690 262.5h12M716 262.5h4M1027.5 262v1M662 263.5h6M686 263.5h4M702 263.5h14M1028 263.5h2M90.5 264v1M668 264.5h18M1030 264.5h4M89.5 265v2M1034 265.5h10M1044 266.5h8M88.5 267v1M1052 267.5h2M87.5 268v2M1054 268.5h2M1056 269.5h2M86.5 270v1M1058 270.5h2M85.5 271v2M1060 271.5h2M1062 272.5h4M84.5 273v1M1066 273.5h6M83.5 274v1M1072 274.5h8M82.5 275v1M1080 275.5h4M81.5 276v2M1084 276.5h2M1086 277.5h4M80.5 278v1M1090 278.5h2M79.5 279v2M1092 279.5h2M1094 280.5h6M78.5 281v1M1100 281.5h6M77.5 282v1M1106 282.5h2M76.5 283v1M1108 283.5h2M75.5 284v2M1110 284.5h4M1114 285.5h2M74.5 286v1M1116 286.5h5M72 287.5h2M70 288.5h2M68 289.5h2M66 290.5h2M64 291.5h2M62 292.5h2M61.5 293v1M60.5 294v1M58 295.5h2M57.5 296v1M56.5 297v1M54 298.5h2M50 299.5h4M48 300.5h2M8 301.5h16M28 301.5h12M42 301.5h6M24 302.5h4M40 302.5h2" fill="none" stroke="#b8b8b8" stroke-width="1" />
<path d="M322 191.5h15M316 192.5h6M337.5 192v1M306 193.5h10M338.5 193v1M300 194.5h6M339.5 194v1M298 195.5h2M340.5 195v1M294 196.5h4M341.5 196v1M292 197.5h2M342.5 197v1M290 198.5h2M343.5 198v1M286 199.5h4M344 199.5h2M282 200.5h4M346.5 200v1M278 201.5h4M347.5 201v1M274 202.5h4M348.5 202v1M268 203.5h6M349.5 203v1M262 204.5h6M350.5 204v1M256 205.5h6M351.5 205v1M212 206.5h12M250 206.5h6M352.5 206v1M208 207.5h4M224 207.5h26M353.5 207v1M206 208.5h2M354.5 208v1M204 209.5h2M355.5 209v1M203.5 210v1M356.5 210v1M202.5 211v1M357.5 211v1M200 212.5h2M358.5 212v1M198 213.5h2M359.5 213v1M196 214.5h2M360 214.5h2M195.5 215v1M362.5 215v1M194.5 216v1M363.5 216v1M192 217.5h2M364.5 217v1M190 218.5h2M365.5 218v1M188 219.5h2M366.5 219v1M186 220.5h2M367.5 220v1M184 221.5h2M368.5 221v1M183.5 222v1M369.5 222v1M182.5 223v1M370.5 223v1M180 224.5h2M371.5 224v2M178 225.5h2M177.5 226v2M372.5 226v1M373.5 227v1M176.5 228v1M374.5 228v1M175.5 229v1M375.5 229v1M174.5 230v1M376.5 230v1M173.5 231v1M377.5 231v2M172.5 232v1M170 233.5h2M378.5 233v1M169.5 234v1M379.5 234v1M168.5 235v1M380.5 235v1M167.5 236v1M381.5 236v1M166.5 237v1M382.5 237v1M164 238.5h2M383.5 238v1M162 239.5h2M384.5 239v1M161.5 240v1M385.5 240v1M160.5 241v1M386.5 241v1M159.5 242v1M387.5 242v1M158.5 243v1M388 243.5h2M157.5 244v1M390 244.5h2M156.5 245v1M392 245.5h2M154 246.5h2M394.5 246v1M152 247.5h2M395.5 247v1M150 248.5h2M396 248.5h2M149.5 249v1M398 249.5h2M148.5 250v1M400 250.5h2M146 251.5h2M402 251.5h4M145.5 252v1M406 252.5h2M144.5 253v1M408 253.5h2M142 254.5h2M410 254.5h2M140 255.5h2M412 255.5h4M139.5 256v1M416 256.5h4M138.5 257v1M420 257.5h4M478 257.5h6M508 257.5h24M137.5 258v1M424 258.5h4M474 258.5h4M484 258.5h24M532 258.5h6M818 258.5h22M136.5 259v1M428 259.5h4M470 259.5h4M538 259.5h2M816 259.5h2M840 259.5h2M135.5 260v1M432 260.5h4M466 260.5h4M540 260.5h2M812 260.5h4M842 260.5h4M134.5 261v1M436 261.5h4M442 261.5h12M464 261.5h2M542 261.5h2M808 261.5h4M846 261.5h4M132 262.5h2M440 262.5h2M454 262.5h6M462 262.5h2M544 262.5h2M804 262.5h4M850 262.5h6M131.5 263v1M460 263.5h2M546 263.5h2M800 263.5h4M856 263.5h8M914 263.5h18M130.5 264v1M548 264.5h4M568 264.5h8M796 264.5h4M864 264.5h50M932 264.5h8M128 265.5h2M552 265.5h16M576 265.5h2M748 265.5h6M792 265.5h4M940 265.5h2M127.5 266v2M578 266.5h2M736 266.5h12M754 266.5h18M790 266.5h2M942.5 266v1M580 267.5h2M734 267.5h2M772 267.5h18M943.5 267v1M126.5 268v1M582 268.5h2M732 268.5h2M944.5 268v1M125.5 269v2M584 269.5h2M728 269.5h4M945.5 269v1M1008 269.5h5M586 270.5h2M726 270.5h2M946 270.5h2M1000 270.5h8M1013.5 270v2M124.5 271v2M588 271.5h2M722 271.5h4M948 271.5h2M996 271.5h4M590 272.5h2M718 272.5h4M950 272.5h2M994 272.5h2M1014.5 272v3M123.5 273v1M592 273.5h2M714 273.5h4M952 273.5h2M990 273.5h4M122.5 274v1M594 274.5h2M696 274.5h18M954 274.5h2M978 274.5h12M121.5 275v2M596 275.5h6M642 275.5h4M690 275.5h6M956 275.5h4M972 275.5h6M1015.5 275v4M602 276.5h6M640 276.5h2M646 276.5h14M686 276.5h4M960 276.5h2M968 276.5h4M120.5 277v1M608 277.5h8M638 277.5h2M660 277.5h10M684 277.5h2M962 277.5h6M118 278.5h2M616 278.5h8M636 278.5h2M670 278.5h14M116 279.5h2M624 279.5h8M635.5 279v1M1016.5 279v4M115.5 280v1M632 280.5h3M114.5 281v1M112 282.5h2M111.5 283v1M1017.5 283v4M110.5 284v1M108 285.5h2M106 286.5h2M105.5 287v1M1018.5 287v3M104.5 288v1M100 289.5h4M94 290.5h6M1019.5 290v2M93.5 291v1M92.5 292v1M1020.5 292v2M91.5 293v2M1021.5 294v1M90.5 295v1M1022.5 295v1M89.5 296v2M1023.5 296v1M1024.5 297v1M88.5 298v2M1025.5 298v1M1026.5 299v1M87.5 300v2M1027.5 300v1M1028.5 301v1M86.5 302v2M1029.5 302v1M1030 303.5h2M85.5 304v2M1032 304.5h4M1036 305.5h10M84.5 306v2M1046 306.5h5M1051.5 307v1M83.5 308v2M1052 308.5h2M1054 309.5h2M82.5 310v1M1056 310.5h2M81.5 311v2M1058 311.5h2M1060 312.5h2M80.5 313v1M1062 313.5h2M79.5 314v2M1064 314.5h2M1066 315.5h2M78.5 316v1M1068 316.5h14M77.5 317v2M1082 317.5h2M1084 318.5h4M76.5 319v2M1088 319.5h2M1090 320.5h2M75.5 321v2M1092 321.5h2M1098 321.5h10M1094 322.5h4M1108 322.5h2M1118 322.5h3M74.5 323v1M1110 323.5h4M1116 323.5h2M72 324.5h2M1114 324.5h2M70 325.5h2M68 326.5h2M66 327.5h2M64 328.5h2M62 329.5h2M61.5 330v1M8 331.5h8M60.5 331v1M16 332.5h8M59.5 332v1M24 333.5h8M58.5 333v1M32 334.5h6M57.5 334v1M38 335.5h2M54 335.5h3M40 336.5h2M50 336.5h4M42 337.5h8" fill="none" stroke="#b8b8b8" stroke-width="1" />
<path d="M395 193.5h70M388 194.5h7M465 194.5h17M381 195.5h7M482 195.5h7M374 196.5h7M489 196.5h7M368 197.5h6M496 197.5h7M364 198.5h4M503 198.5h6M359 199.5h5M509 199.5h6M353 200.5h6M515 200.5h6M346 201.5h7M521 201.5h5M341 202.5h5M526 202.5h6M337 203.5h4M532 203.5h6M334 204.5h3M538 204.5h7M330 205.5h4M545 205.5h7M326 206.5h4M552 206.5h7M322 207.5h4M559 207.5h7M317 208.5h5M566 208.5h7M312 209.5h5M573 209.5h7M308 210.5h4M580 210.5h7M303 211.5h5M587 211.5h6M298 212.5h5M593 212.5h4M292 213.5h6M597 213.5h4M286 214.5h6M601 214.5h4M280 215.5h6M605 215.5h4M273 216.5h7M609 216.5h5M266 217.5h7M614 217.5h6M259 218.5h7M620 218.5h6M252 219.5h7M626 219.5h5M245 220.5h7M631 220.5h6M238 221.5h7M637 221.5h6M231 222.5h7M643 222.5h5M224 223.5h7M648 223.5h6M217 224.5h7M654 224.5h5M210 225.5h7M659 225.5h6M203 226.5h7M665 226.5h6M196 227.5h7M671 227.5h5M189 228.5h7M676 228.5h6M184 229.5h5M682 229.5h5M181 230.5h3M687 230.5h6M179 231.5h2M693 231.5h6M176 232.5h3M699 232.5h5M174 233.5h2M704 233.5h6M172 234.5h2M710 234.5h10M170 235.5h2M720 235.5h10M168 236.5h2M730 236.5h7M166 237.5h2M737 237.5h5M997 237.5h14M164 238.5h2M742 238.5h4M989 238.5h8M1011 238.5h32M162 239.5h2M746 239.5h3M979 239.5h10M1043 239.5h79M160 240.5h2M749 240.5h12M969 240.5h10M158 241.5h2M761 241.5h21M960 241.5h9M157.5 242v1M782 242.5h46M953 242.5h7M155 243.5h2M828 243.5h14M930 243.5h23M153 244.5h2M842 244.5h21M894 244.5h36M151 245.5h2M863 245.5h31M150.5 246v1M148 247.5h2M146 248.5h2M145.5 249v1M143 250.5h2M141 251.5h2M139 252.5h2M137 253.5h2M133 254.5h4M130 255.5h3M126 256.5h4M122 257.5h4M119 258.5h3M115 259.5h4M111 260.5h4M107 261.5h4M104 262.5h3M102 263.5h2M99 264.5h3M97 265.5h2M94 266.5h3M91 267.5h3M89 268.5h2M87 269.5h2M85 270.5h2M84.5 271v1M82 272.5h2M81.5 273v1M79 274.5h2M78.5 275v1M76 276.5h2M75.5 277v1M73 278.5h2M72.5 279v1M70 280.5h2M69.5 281v1M67 282.5h2M66.5 283v1M64 284.5h2M63.5 285v1M62.5 286v1M61.5 287v1M60.5 288v2M59.5 290v1M58.5 291v1M57.5 292v1M56.5 293v1M55.5 294v1M54.5 295v1M53.5 296v2M52.5 298v1M51.5 299v1M50.5 300v1M49.5 301v1M48.5 302v2M47.5 304v1M46.5 305v1M45.5 306v2M44.5 308v1M43.5 309v1M42.5 310v2M41.5 312v1M40.5 313v1M39.5 314v2M38.5 316v1M37.5 317v1M36.5 318v2M35.5 320v1M34.5 321v1M33.5 322v2M32.5 324v1M31.5 325v1M30.5 326v2M29.5 328v1M28.5 329v1M27.5 330v1M26.5 331v2M25.5 333v1M24.5 334v1M23.5 335v1M22.5 336v2M21.5 338v1M20.5 339v1M19.5 340v2M18.5 342v1M17.5 343v1M16.5 344v1M15.5 345v1M14.5 346v1M13.5 347v1M12.5 348v2M11.5 350v1M10.5 351v1M9.5 352v1M8.5 353v1M7.5 354v1" fill="none" stroke="#008000" stroke-width="1" />
<path d="M210 173.5h8M202 174.5h8M218 174.5h11M196 175.5h6M229 175.5h8M192 176.5h4M237 176.5h5M296 176.5h27M188 177.5h4M242 177.5h4M287 177.5h9M323 177.5h9M185 178.5h3M246 178.5h10M280 178.5h7M332 178.5h7M183 179.5h2M256 179.5h24M339 179.5h5M180 180.5h3M344 180.5h5M178 181.5h2M349 181.5h5M176 182.5h2M354 182.5h4M174 183.5h2M358 183.5h4M172 184.5h2M362 184.5h3M170 185.5h2M365 185.5h4M167 186.5h3M369 186.5h3M164 187.5h3M372 187.5h2M160 188.5h4M374 188.5h2M157 189.5h3M376 189.5h3M153 190.5h4M379 190.5h2M150 191.5h3M381 191.5h2M146 192.5h4M383 192.5h3M142 193.5h4M386 193.5h2M139 194.5h3M388 194.5h2M136 195.5h3M390 195.5h3M133 196.5h3M393 196.5h2M130 197.5h3M395 197.5h2M128 198.5h2M397 198.5h3M127.5 199v1M400 199.5h3M125 200.5h2M403 200.5h3M124.5 201v1M406 201.5h2M123.5 202v1M408 202.5h3M121 203.5h2M411 203.5h3M119 204.5h2M414 204.5h2M117 205.5h2M416 205.5h2M115 206.5h2M418 206.5h3M114.5 207v1M421 207.5h2M113.5 208v1M423 208.5h2M112.5 209v1M425 209.5h3M111.5 210v1M428 210.5h3M109 211.5h2M431 211.5h3M108.5 212v1M434 212.5h2M107.5 213v1M436 213.5h3M106.5 214v1M439 214.5h3M105.5 215v1M442 215.5h2M104.5 216v1M444 216.5h2M103.5 217v1M446 217.5h3M1001 217.5h8M102.5 218v2M449 218.5h2M997 218.5h4M1009 218.5h6M451 219.5h2M994 219.5h3M1015 219.5h2M101.5 220v1M453 220.5h3M992 220.5h2M1017 220.5h2M100.5 221v1M456 221.5h2M990 221.5h2M1019 221.5h2M99.5 222v1M458 222.5h3M988 222.5h2M1021 222.5h2M98.5 223v1M461 223.5h2M986 223.5h2M1023 223.5h3M97.5 224v1M463 224.5h3M984 224.5h2M1026 224.5h3M96.5 225v1M466 225.5h2M982 225.5h2M1029 225.5h11M95.5 226v1M468 226.5h2M980 226.5h2M1040 226.5h11M94.5 227v1M470 227.5h2M978 227.5h2M1051 227.5h4M93.5 228v1M472 228.5h2M976 228.5h2M1055 228.5h3M92.5 229v1M474 229.5h2M975.5 229v1M1058 229.5h4M91.5 230v2M476 230.5h2M973 230.5h2M1062 230.5h5M478 231.5h2M971 231.5h2M1067 231.5h7M90.5 232v1M480 232.5h2M969 232.5h2M1074 232.5h5M89.5 233v1M482 233.5h2M967 233.5h2M1079 233.5h3M88.5 234v1M484 234.5h2M514 234.5h24M965 234.5h2M1082 234.5h3M87.5 235v1M486 235.5h28M538 235.5h5M963 235.5h2M1085 235.5h2M86.5 236v1M543 236.5h3M960 236.5h3M1087 236.5h3M85.5 237v1M546 237.5h3M557 237.5h21M956 237.5h4M1090 237.5h3M84.5 238v1M549 238.5h8M578 238.5h7M953 238.5h3M1093 238.5h3M83.5 239v1M585 239.5h4M949 239.5h4M1096 239.5h3M82.5 240v1M589 240.5h3M814 240.5h29M946 240.5h3M1099 240.5h2M81.5 241v1M592 241.5h3M803 241.5h11M843 241.5h7M942 241.5h4M1101 241.5h3M80.5 242v2M595 242.5h20M796 242.5h7M850 242.5h8M938 242.5h4M1104 242.5h3M615 243.5h13M789 243.5h7M858 243.5h8M912 243.5h26M1107 243.5h2M79.5 244v1M628 244.5h11M782 244.5h7M866 244.5h46M1109 244.5h2M78.5 245v1M639 245.5h4M775 245.5h7M1111 245.5h2M77.5 246v1M643 246.5h3M768 246.5h7M1113.5 246v1M76.5 247v1M646 247.5h8M733 247.5h9M757 247.5h11M1114 247.5h2M75.5 248v1M654 248.5h9M729 248.5h4M742 248.5h15M1116 248.5h2M73 249.5h2M663 249.5h4M726 249.5h3M1118.5 249v1M71 250.5h2M667 250.5h4M686 250.5h8M722 250.5h4M1119 250.5h2M70.5 251v1M671 251.5h15M694 251.5h12M717 251.5h5M1121.5 251v1M68 252.5h2M706 252.5h11M66 253.5h2M64 254.5h2M63.5 255v1M61 256.5h2M60.5 257v1M58 258.5h2M57.5 259v1M55 260.5h2M53 261.5h2M51 262.5h2M49 263.5h2M46 264.5h3M44 265.5h2M42 266.5h2M38 267.5h4M34 268.5h4M29 269.5h5M22 270.5h7M12 271.5h10M7 272.5h5" fill="none" stroke="#0000ff" stroke-width="1" />
<path d="M123.5 132v28M124.5 135v4M125.5 139v3M126.5 142v3M127.5 145v2M128.5 147v2M129.5 149v1M130.5 150v1M131.5 151v1M132.5 152v2M133.5 154v1M134.5 155v1M135.5 156v1M136 157.5h2M138.5 158v1M139.5 159v1M122.5 160v56M140 160.5h2M142 161.5h2M144 162.5h2M146.5 163v1M147 164.5h2M149 165.5h2M151 166.5h2M153 167.5h2M155 168.5h3M158 169.5h3M186 169.5h14M161 170.5h25M200 170.5h15M215 171.5h21M236 172.5h39M275 173.5h57M332 174.5h14M346 175.5h7M353 176.5h6M359 177.5h5M364 178.5h4M368 179.5h4M372 180.5h4M376 181.5h3M379 182.5h4M383 183.5h5M388 184.5h7M395 185.5h6M401 186.5h5M406 187.5h4M410 188.5h10M420 189.5h14M434 190.5h12M446 191.5h9M455 192.5h10M465 193.5h9M474 194.5h6M480 195.5h3M483 196.5h3M486 197.5h2M488 198.5h3M491 199.5h5M496 200.5h7M503 201.5h7M510 202.5h7M517 203.5h8M525 204.5h10M535 205.5h9M544 206.5h12M556 207.5h14M570 208.5h10M580 209.5h7M587 210.5h7M594 211.5h9M603 212.5h10M613 213.5h18M631 214.5h63M694 215.5h33M121.5 216v55M727 216.5h109M836 217.5h177M1013.5 218v2M1014.5 220v1M1015.5 221v2M1016.5 223v1M1017.5 224v2M1018.5 226v2M1019.5 228v2M1020.5 230v1M1021 231.5h2M1023.5 232v1M1024 233.5h2M1026 234.5h3M1029 235.5h4M1033 236.5h9M1042 237.5h22M1064 238.5h46M120.5 271v56M119.5 327v55M118.5 382v56M117.5 438v28M109 465.5h8M96 466.5h13M87 467.5h9M82 468.5h5M80 469.5h2M78 470.5h2M76 471.5h2M72 472.5h4M66 473.5h6M61 474.5h5M56 475.5h5M50 476.5h6M46 477.5h4M43 478.5h3M40 479.5h3M36 480.5h4M33 481.5h3M30 482.5h3M26 483.5h4M23 484.5h3M19 485.5h4M16 486.5h3M13 487.5h3M9 488.5h4M7 489.5h2" fill="none" stroke="#ff00ff" stroke-width="1" />
<path d="M112 153.5h12M111.5 154v1M124.5 154v1M110.5 155v1M125.5 155v2M108 156.5h2M107.5 157v1M126.5 157v1M106.5 158v1M127.5 158v1M105.5 159v1M128.5 159v1M104.5 160v1M129.5 160v1M103.5 161v2M130.5 161v1M131.5 162v2M102.5 163v1M101.5 164v1M132.5 164v1M100.5 165v1M133.5 165v1M99.5 166v2M134.5 166v1M188 166.5h8M135.5 167v2M185 167.5h3M196 167.5h6M98.5 168v2M184.5 168v2M202.5 168v1M136.5 169v2M203 169.5h2M97.5 170v2M183.5 170v1M205.5 170v1M137.5 171v2M182.5 171v2M206.5 171v1M96.5 172v2M207.5 172v1M138.5 173v2M181.5 173v1M208.5 173v1M258 173.5h9M306 173.5h4M95.5 174v2M180.5 174v2M209.5 174v1M252 174.5h6M267 174.5h6M302 174.5h4M310 174.5h4M139.5 175v2M210.5 175v1M251.5 175v1M273 175.5h3M299 175.5h3M314 175.5h4M94.5 176v2M179.5 176v1M211.5 176v1M250.5 176v1M276 176.5h3M293 176.5h6M318 176.5h7M140.5 177v1M178.5 177v1M212.5 177v1M248 177.5h2M279 177.5h14M325 177.5h7M93.5 178v2M141.5 178v1M177.5 178v1M213.5 178v1M247.5 178v1M332 178.5h3M142.5 179v1M176.5 179v2M214.5 179v1M246.5 179v1M335 179.5h2M92.5 180v1M143.5 180v2M215.5 180v2M245.5 180v1M337 180.5h2M91.5 181v2M175.5 181v1M243 181.5h2M339.5 181v1M144.5 182v1M174.5 182v1M216.5 182v1M242.5 182v1M340 182.5h2M90.5 183v2M145.5 183v1M173.5 183v1M217.5 183v1M240 183.5h2M342.5 183v1M988 183.5h9M146.5 184v1M171 184.5h2M218 184.5h2M238 184.5h2M343.5 184v1M986 184.5h2M997.5 184v1M89.5 185v1M147.5 185v2M169 185.5h2M220 185.5h2M236 185.5h2M344.5 185v1M984 185.5h2M998.5 185v1M88.5 186v2M168.5 186v1M222 186.5h2M230 186.5h6M345.5 186v2M983.5 186v1M999.5 186v2M148.5 187v1M167.5 187v1M224 187.5h6M981 187.5h2M87.5 188v2M149.5 188v1M166.5 188v1M346.5 188v1M980.5 188v1M1000.5 188v1M150.5 189v2M165.5 189v1M347.5 189v1M979.5 189v1M1001.5 189v1M86.5 190v2M164.5 190v1M348.5 190v1M977 190.5h2M1002.5 190v2M151.5 191v1M163.5 191v1M349.5 191v1M976.5 191v1M85.5 192v2M152 192.5h2M162.5 192v1M350.5 192v2M975.5 192v1M1003.5 192v3M154.5 193v1M160 193.5h2M973 193.5h2M84.5 194v2M155 194.5h2M158 194.5h2M351.5 194v1M972.5 194v1M157.5 195v1M352.5 195v2M970 195.5h2M1004.5 195v3M83.5 196v2M968 196.5h2M353.5 197v2M967.5 197v1M82.5 198v2M966.5 198v1M1005.5 198v2M354.5 199v1M965.5 199v1M81.5 200v1M355.5 200v2M964.5 200v2M1006.5 200v3M80.5 201v2M356.5 202v1M963.5 202v1M79.5 203v2M357.5 203v2M962.5 203v1M1007.5 203v3M961.5 204v1M78.5 205v1M358.5 205v2M960.5 205v2M77.5 206v1M1008.5 206v3M76.5 207v1M359.5 207v1M959.5 207v2M74 208.5h2M360.5 208v2M73.5 209v1M958.5 209v2M1009.5 209v3M71 210.5h2M361.5 210v1M67 211.5h4M362.5 211v1M957.5 211v2M63 212.5h4M363.5 212v1M1010.5 212v3M61 213.5h2M364.5 213v2M956.5 213v1M60.5 214v1M954 214.5h2M58 215.5h2M365.5 215v1M953.5 215v1M1011.5 215v4M57.5 216v1M366.5 216v1M952.5 216v1M56.5 217v1M367.5 217v1M950 217.5h2M54 218.5h2M368.5 218v1M949.5 218v1M53.5 219v1M369.5 219v1M947 219.5h2M1012.5 219v5M51 220.5h2M370.5 220v1M946.5 220v1M50.5 221v1M371.5 221v1M944 221.5h2M48 222.5h2M372.5 222v1M515 222.5h7M943.5 222v1M47.5 223v1M373.5 223v1M514.5 223v2M522.5 223v1M942.5 223v1M46.5 224v1M374.5 224v1M523.5 224v1M940 224.5h2M1013.5 224v5M45.5 225v1M375.5 225v1M513.5 225v1M524 225.5h2M939.5 225v1M44.5 226v1M376.5 226v1M512.5 226v1M526.5 226v1M937 226.5h2M42 227.5h2M377 227.5h2M409 227.5h6M423 227.5h8M511.5 227v2M527.5 227v1M935 227.5h2M41.5 228v1M379.5 228v1M407 228.5h2M415 228.5h8M431 228.5h4M528 228.5h2M931 228.5h4M40.5 229v1M380.5 229v1M406.5 229v1M435 229.5h2M510.5 229v1M530 229.5h2M928 229.5h3M1014.5 229v5M38 230.5h2M381 230.5h2M405.5 230v1M437 230.5h2M508 230.5h2M532 230.5h2M926 230.5h2M34 231.5h4M383 231.5h3M403 231.5h2M439 231.5h2M507.5 231v1M534 231.5h2M785 231.5h17M924 231.5h2M30 232.5h4M386 232.5h2M402.5 232v1M441 232.5h9M506.5 232v1M536.5 232v1M574 232.5h3M783 232.5h2M802 232.5h3M922 232.5h2M27 233.5h3M388 233.5h3M400 233.5h2M450 233.5h4M504 233.5h2M537 233.5h2M573.5 233v1M577 233.5h2M781 233.5h2M805 233.5h2M920 233.5h2M25 234.5h2M391 234.5h2M399.5 234v1M454 234.5h2M503.5 234v1M539.5 234v1M572.5 234v1M579.5 234v2M779 234.5h2M807 234.5h3M918 234.5h2M1015.5 234v5M23 235.5h2M393 235.5h2M397 235.5h2M456.5 235v1M502.5 235v2M540 235.5h2M571.5 235v2M778.5 235v1M810 235.5h3M916 235.5h2M20 236.5h3M395 236.5h2M457 236.5h2M542.5 236v1M580.5 236v1M726 236.5h10M777.5 236v1M813 236.5h3M915.5 236v1M18 237.5h2M459.5 237v1M501.5 237v1M543.5 237v2M570.5 237v1M581.5 237v1M724 237.5h2M736 237.5h2M776.5 237v1M816 237.5h3M913 237.5h2M16 238.5h2M460.5 238v1M500.5 238v2M569.5 238v1M582.5 238v2M721 238.5h3M738 238.5h2M775.5 238v1M819 238.5h2M911 238.5h2M1096 238.5h3M15.5 239v2M461 239.5h2M544.5 239v2M568.5 239v1M719 239.5h2M740 239.5h2M774.5 239v1M821 239.5h2M910.5 239v1M1016.5 239v6M1092 239.5h4M1099.5 239v1M463.5 240v1M499.5 240v2M567.5 240v1M583.5 240v1M717 240.5h2M742.5 240v1M773.5 240v1M823 240.5h2M908 240.5h2M1091.5 240v1M1100.5 240v2M14.5 241v1M464 241.5h2M545.5 241v1M565 241.5h2M584.5 241v1M716.5 241v1M743.5 241v1M772.5 241v1M825.5 241v1M906 241.5h2M1090.5 241v2M13.5 242v2M466 242.5h2M498.5 242v1M546.5 242v2M564.5 242v1M585.5 242v1M714 242.5h2M744.5 242v2M771.5 242v1M826 242.5h2M905.5 242v1M1101.5 242v1M468 243.5h3M497.5 243v2M563.5 243v1M586.5 243v1M713.5 243v1M770.5 243v1M828.5 243v1M903 243.5h2M1089.5 243v1M1102.5 243v1M12.5 244v1M471 244.5h3M547.5 244v2M559 244.5h4M587.5 244v2M711 244.5h2M745.5 244v1M769.5 244v1M829.5 244v1M901 244.5h2M1088.5 244v1M1103.5 244v1M11.5 245v2M474 245.5h2M496.5 245v1M552 245.5h7M710.5 245v1M746.5 245v1M768.5 245v1M830 245.5h2M899 245.5h2M1017.5 245v5M1087.5 245v2M1104.5 245v1M476 246.5h2M495.5 246v1M548 246.5h4M588.5 246v1M640 246.5h9M708 246.5h2M747.5 246v1M767.5 246v1M832 246.5h2M897 246.5h2M1105.5 246v1M10.5 247v1M478 247.5h2M494.5 247v2M589.5 247v1M638 247.5h2M649 247.5h3M706 247.5h2M748 247.5h2M766.5 247v1M834 247.5h4M893 247.5h4M1085 247.5h2M1106.5 247v2M9.5 248v2M480 248.5h2M590.5 248v1M636 248.5h2M652 248.5h3M704 248.5h2M750 248.5h2M764 248.5h2M838 248.5h2M891 248.5h2M1083 248.5h2M482 249.5h6M493.5 249v1M591.5 249v2M634 249.5h2M655 249.5h3M702 249.5h2M752 249.5h2M762 249.5h2M840 249.5h2M889 249.5h2M1081 249.5h2M1107.5 249v1M8.5 250v1M488 250.5h5M633.5 250v1M658 250.5h2M699 250.5h3M754 250.5h3M760 250.5h2M842 250.5h2M887 250.5h2M1018.5 250v6M1080.5 250v1M1108.5 250v1M592.5 251v2M631 251.5h2M660 251.5h2M695 251.5h4M757 251.5h3M844 251.5h2M885 251.5h2M1079.5 251v1M1109.5 251v1M629 252.5h2M662 252.5h2M691 252.5h4M846 252.5h2M881 252.5h4M1058.5 252v1M1078.5 252v1M1110.5 252v2M593.5 253v2M627 253.5h2M664 253.5h2M687 253.5h4M848 253.5h3M873 253.5h8M1057.5 253v1M1059.5 253v1M1077.5 253v1M624 254.5h3M666 254.5h2M682 254.5h5M851 254.5h7M866 254.5h7M1056.5 254v1M1060.5 254v1M1076.5 254v1M1111.5 254v1M594.5 255v2M621 255.5h3M668 255.5h4M678 255.5h4M858 255.5h8M1055.5 255v2M1061.5 255v1M1075.5 255v1M1112.5 255v1M618 256.5h3M672 256.5h6M1019.5 256v4M1062.5 256v1M1074.5 256v1M1113.5 256v2M595.5 257v1M615 257.5h3M1054.5 257v1M1063.5 257v1M1072 257.5h2M596.5 258v1M613 258.5h2M1052 258.5h2M1064 258.5h4M1071.5 258v1M1114.5 258v1M597.5 259v1M610 259.5h3M1048 259.5h4M1068 259.5h3M1115.5 259v1M598.5 260v1M604 260.5h6M1020.5 260v3M1046 260.5h2M1116.5 260v1M599 261.5h5M1046.5 261v2M1117 261.5h2M1119.5 262v1M1021.5 263v3M1045.5 263v4M1120.5 263v1M1121.5 264v1M1022.5 266v2M1044.5 267v5M1023.5 268v3M1024.5 271v3M1043.5 272v4M1025.5 274v3M1042.5 276v3M1026.5 277v2M1027.5 279v3M1041.5 279v1M1040.5 280v1M1039.5 281v2M1028.5 282v2M1038.5 283v1M1029.5 284v2M1037.5 284v1M1035 285.5h2M1030.5 286v2M1032 286.5h3M1031.5 287v1" fill="none" stroke="#ff0000" stroke-width="1" />
<path d="M122 519.5h2M120 520.5h2M124.5 520v2M117 521.5h3M114 522.5h3M125.5 522v1M112 523.5h2M126.5 523v2M109 524.5h3M105 525.5h4M127.5 525v2M101 526.5h4M97 527.5h4M128.5 527v1M94 528.5h3M129.5 528v2M185 528.5h2M92 529.5h2M183 529.5h2M187 529.5h4M61.5 530v1M90 530.5h2M130.5 530v1M181 530.5h2M191 530.5h3M60.5 531v2M62 531.5h2M87 531.5h3M131.5 531v2M180.5 531v1M194 531.5h2M21 532.5h3M44.5 532v1M64 532.5h2M85 532.5h2M178 532.5h2M196 532.5h2M985 532.5h3M17 533.5h4M24 533.5h4M43.5 533v2M45.5 533v1M59.5 533v2M66 533.5h2M82 533.5h3M132.5 533v1M177.5 533v1M198.5 533v1M983 533.5h2M988 533.5h3M15 534.5h2M28 534.5h3M46 534.5h2M68 534.5h4M78 534.5h4M133.5 534v2M175 534.5h2M199 534.5h2M957 534.5h7M981 534.5h2M991.5 534v1M14.5 535v1M31 535.5h2M42.5 535v1M48.5 535v1M58.5 535v1M72 535.5h6M173 535.5h2M201.5 535v1M954 535.5h3M964 535.5h2M973 535.5h8M992.5 535v2M13.5 536v1M33 536.5h2M41.5 536v2M49.5 536v1M57.5 536v2M134.5 536v1M172.5 536v1M202.5 536v1M924 536.5h6M950 536.5h4M966 536.5h2M970 536.5h3M12.5 537v1M35.5 537v1M50.5 537v1M135.5 537v2M171.5 537v1M203 537.5h2M923.5 537v1M930.5 537v2M946 537.5h4M968 537.5h2M993.5 537v1M11.5 538v1M36.5 538v1M40.5 538v2M51 538.5h2M56.5 538v2M170.5 538v1M205 538.5h2M921 538.5h2M944 538.5h2M994.5 538v1M10.5 539v1M37 539.5h2M53 539.5h2M136.5 539v1M169.5 539v1M207 539.5h2M920.5 539v1M931.5 539v2M942 539.5h2M995.5 539v2M9.5 540v1M39.5 540v1M55.5 540v1M137.5 540v2M168.5 540v1M209 540.5h3M728.5 540v1M919.5 540v1M940 540.5h2M1097.5 540v1M8.5 541v1M167.5 541v1M212 541.5h3M297 541.5h3M727.5 541v1M729.5 541v1M918.5 541v1M932.5 541v1M939.5 541v1M996.5 541v1M1096.5 541v1M1098.5 541v2M138.5 542v1M166.5 542v1M215 542.5h2M296.5 542v1M300 542.5h3M726.5 542v1M730.5 542v1M778.5 542v1M916 542.5h2M933.5 542v2M938.5 542v1M997.5 542v2M1095.5 542v2M139.5 543v2M165.5 543v1M217 543.5h8M295.5 543v1M303.5 543v1M498.5 543v2M725.5 543v2M731.5 543v2M767 543.5h2M776 543.5h2M779.5 543v1M901 543.5h2M915.5 543v1M937.5 543v2M1099.5 543v2M164.5 544v1M225 544.5h8M293 544.5h2M304.5 544v1M499 544.5h2M765 544.5h2M769 544.5h2M774 544.5h2M780 544.5h2M900.5 544v2M903 544.5h2M913 544.5h2M934.5 544v2M998.5 544v2M1094.5 544v1M140.5 545v1M163.5 545v1M233 545.5h2M292.5 545v1M305.5 545v2M497.5 545v2M501 545.5h2M666 545.5h2M693 545.5h2M724.5 545v1M732.5 545v1M764.5 545v1M771 545.5h3M782.5 545v1M905 545.5h2M909 545.5h4M936.5 545v1M1093.5 545v1M1100.5 545v2M141 546.5h2M162.5 546v1M235 546.5h2M285 546.5h7M503.5 546v1M515 546.5h4M556 546.5h11M663 546.5h3M668.5 546v1M691 546.5h2M695.5 546v1M717 546.5h7M733.5 546v1M762 546.5h2M783.5 546v1M899.5 546v1M907 546.5h2M935.5 546v1M999.5 546v2M1092.5 546v2M143.5 547v1M161.5 547v1M237.5 547v1M284.5 547v1M306.5 547v1M496.5 547v2M504.5 547v2M514.5 547v2M519 547.5h3M555.5 547v1M567 547.5h2M661 547.5h2M669.5 547v2M689 547.5h2M696 547.5h2M716.5 547v1M734.5 547v1M756 547.5h6M784 547.5h2M816 547.5h5M827 547.5h3M898.5 547v2M1101.5 547v2M1107 547.5h2M144 548.5h2M159 548.5h2M238.5 548v1M283.5 548v1M307.5 548v1M522 548.5h2M554.5 548v1M569 548.5h2M621 548.5h8M660.5 548v1M688.5 548v1M698.5 548v1M715.5 548v1M735 548.5h2M754 548.5h2M786 548.5h3M814 548.5h2M821 548.5h6M830 548.5h2M1000.5 548v2M1091.5 548v1M1104 548.5h3M1108.5 548v1M146.5 549v1M157 549.5h2M239.5 549v1M250 549.5h2M281 549.5h2M308 549.5h7M431.5 549v1M495.5 549v3M505.5 549v1M513.5 549v1M524.5 549v1M531 549.5h3M552 549.5h2M571.5 549v1M620.5 549v1M629 549.5h2M659.5 549v1M670.5 549v1M687.5 549v1M699.5 549v1M714.5 549v1M737 549.5h2M753.5 549v1M789 549.5h2M807 549.5h7M832.5 549v1M897.5 549v1M1090.5 549v1M1102 549.5h2M1109.5 549v2M147.5 550v1M154 550.5h3M240.5 550v1M247 550.5h3M252.5 550v2M280.5 550v1M315.5 550v1M430.5 550v2M432.5 550v1M506.5 550v2M512.5 550v2M525 550.5h2M529 550.5h2M534 550.5h2M551.5 550v1M572.5 550v2M619.5 550v2M631 550.5h2M657 550.5h2M671.5 550v1M675 550.5h4M685 550.5h2M700 550.5h7M713.5 550v1M739 550.5h3M752.5 550v1M791.5 550v1M805 550.5h2M833.5 550v2M890 550.5h2M896.5 550v2M1001.5 550v2M1088 550.5h2M148 551.5h2M152 551.5h2M241.5 551v1M244 551.5h3M279.5 551v1M316.5 551v1M324.5 551v1M433.5 551v1M454 551.5h6M527 551.5h2M536 551.5h2M550.5 551v1M633.5 551v1M656.5 551v1M672 551.5h3M679 551.5h3M684.5 551v1M707 551.5h3M712.5 551v1M742 551.5h5M750 551.5h2M792.5 551v1M803 551.5h2M889.5 551v2M892 551.5h2M1080 551.5h4M1087.5 551v1M1110.5 551v2M150 552.5h2M242 552.5h2M253.5 552v1M277 552.5h2M317.5 552v1M322 552.5h2M325.5 552v1M429.5 552v2M434.5 552v1M452 552.5h2M460 552.5h2M494.5 552v2M507.5 552v1M511.5 552v1M538.5 552v1M549.5 552v1M573.5 552v2M605.5 552v1M618.5 552v1M634 552.5h2M655.5 552v1M682 552.5h2M710 552.5h2M747 552.5h3M793.5 552v1M801 552.5h2M834.5 552v2M894 552.5h2M1002.5 552v2M1078 552.5h2M1084 552.5h3M1121.5 552v1M254.5 553v1M275 553.5h2M318.5 553v1M320 553.5h2M326 553.5h2M435.5 553v1M451.5 553v1M462 553.5h2M508.5 553v2M510.5 553v2M539.5 553v1M548.5 553v1M604.5 553v1M606.5 553v1M617.5 553v1M636 553.5h2M654.5 553v1M794.5 553v1M798 553.5h3M888.5 553v1M1076 553.5h2M1111.5 553v2M1120.5 553v1M255.5 554v2M273 554.5h2M319.5 554v1M328.5 554v1M428.5 554v2M436.5 554v1M449 554.5h2M464.5 554v1M493.5 554v2M540.5 554v1M547.5 554v1M574.5 554v1M603.5 554v1M607.5 554v1M616.5 554v2M638 554.5h2M653.5 554v1M795 554.5h3M835.5 554v2M887.5 554v2M1003.5 554v1M1074 554.5h2M1119.5 554v1M270 555.5h3M329.5 555v1M437 555.5h2M447 555.5h2M465.5 555v1M509.5 555v1M541.5 555v1M545 555.5h2M575.5 555v2M602.5 555v1M608.5 555v1M640 555.5h3M652.5 555v2M1004 555.5h2M1073.5 555v1M1112.5 555v2M1118.5 555v1M256 556.5h2M268 556.5h2M330 556.5h2M427.5 556v2M439 556.5h2M444 556.5h3M466 556.5h2M492.5 556v1M542.5 556v1M544.5 556v1M601.5 556v1M609.5 556v1M613 556.5h3M643 556.5h2M836.5 556v1M886.5 556v1M1006 556.5h2M1036 556.5h13M1071 556.5h2M1117.5 556v1M258 557.5h2M266 557.5h2M332 557.5h2M441 557.5h3M468.5 557v1M473 557.5h3M491.5 557v1M543.5 557v1M576.5 557v2M600.5 557v1M610 557.5h3M645 557.5h2M651.5 557v1M837.5 557v2M885.5 557v2M1008 557.5h3M1035.5 557v1M1049 557.5h3M1069 557.5h2M1113.5 557v2M1116.5 557v1M260 558.5h2M264 558.5h2M334 558.5h2M426.5 558v2M469 558.5h4M476.5 558v2M490.5 558v1M597 558.5h3M647 558.5h2M650.5 558v1M1011 558.5h3M1034.5 558v1M1052 558.5h2M1067 558.5h2M1115.5 558v1M262 559.5h2M336 559.5h2M489.5 559v1M577 559.5h2M593 559.5h4M649.5 559v1M838.5 559v1M884.5 559v1M1013.5 559v1M1025.5 559v1M1033.5 559v1M1054 559.5h3M1065 559.5h2M1114.5 559v1M338 560.5h3M425.5 560v1M477.5 560v2M488.5 560v1M579 560.5h2M590 560.5h3M839.5 560v1M873 560.5h2M883.5 560v1M1014.5 560v2M1024.5 560v2M1026 560.5h2M1032.5 560v1M1057 560.5h8M341 561.5h3M424.5 561v1M487.5 561v1M581 561.5h9M840.5 561v2M870 561.5h3M875.5 561v1M882.5 561v1M1028 561.5h2M1031.5 561v1M344 562.5h2M423.5 562v1M478.5 562v1M486.5 562v1M868 562.5h2M876 562.5h2M881.5 562v1M1015.5 562v2M1023.5 562v2M1030.5 562v1M346 563.5h2M422.5 563v1M479.5 563v2M485.5 563v1M841.5 563v1M866 563.5h2M878.5 563v1M880.5 563v1M348 564.5h3M421.5 564v1M484.5 564v1M842 564.5h2M864 564.5h2M879.5 564v1M1016.5 564v2M1022.5 564v2M351 565.5h3M420.5 565v1M480.5 565v2M483.5 565v1M844.5 565v1M861 565.5h3M354 566.5h2M403 566.5h4M412 566.5h8M482.5 566v1M845.5 566v1M858 566.5h3M1017.5 566v2M1021.5 566v2M356.5 567v1M402.5 567v1M407 567.5h5M481.5 567v1M846.5 567v2M856 567.5h2M357.5 568v1M401.5 568v1M855.5 568v2M1018.5 568v2M1020.5 568v2M358.5 569v1M400.5 569v1M847.5 569v1M359 570.5h2M399.5 570v1M848.5 570v1M854.5 570v1M1019.5 570v2M361.5 571v1M398.5 571v1M849.5 571v2M853.5 571v1M362.5 572v1M394 572.5h4M852.5 572v2M363.5 573v1M367 573.5h4M389 573.5h5M850.5 573v1M364 574.5h3M371 574.5h3M388.5 574v1M851.5 574v1M374 575.5h2M386 575.5h2M376 576.5h2M385.5 576v1M378.5 577v1M384.5 577v1M379 578.5h2M382 578.5h2M381.5 579v1" fill="none" stroke="#6495ed" stroke-width="1" />
<path d="M983 595.5h11M60 596.5h67M978 596.5h5M994 596.5h4M54 597.5h6M127 597.5h7M972 597.5h6M998 597.5h2M49 598.5h5M134 598.5h6M968 598.5h4M1000.5 598v1M47 599.5h2M140 599.5h7M965 599.5h3M1001 599.5h2M44 600.5h3M147 600.5h5M961 600.5h4M1003.5 600v1M42 601.5h2M152 601.5h2M957 601.5h4M1004.5 601v1M41.5 602v1M154 602.5h2M954 602.5h3M1005.5 602v2M40.5 603v1M156 603.5h2M952 603.5h2M39.5 604v1M158 604.5h2M951.5 604v1M1006.5 604v1M38.5 605v1M160 605.5h2M950.5 605v1M1007.5 605v1M36 606.5h2M162 606.5h2M789 606.5h10M948 606.5h2M1008.5 606v1M35.5 607v1M164 607.5h2M787 607.5h2M799 607.5h9M947.5 607v1M1009.5 607v1M34.5 608v1M166 608.5h2M723 608.5h7M784 608.5h3M808 608.5h2M946.5 608v1M1010.5 608v1M33.5 609v1M168 609.5h2M721 609.5h2M730 609.5h3M782 609.5h2M810 609.5h2M945.5 609v1M1011.5 609v2M32.5 610v1M170 610.5h2M719 610.5h2M733 610.5h3M780 610.5h2M812 610.5h3M943 610.5h2M31.5 611v1M172 611.5h2M717 611.5h2M736 611.5h2M779.5 611v1M815 611.5h2M942.5 611v1M1012.5 611v1M29 612.5h2M174 612.5h2M716.5 612v1M738 612.5h2M778.5 612v1M817.5 612v1M941.5 612v1M1013.5 612v1M28.5 613v1M176 613.5h2M715.5 613v1M740 613.5h2M777.5 613v1M818.5 613v1M940.5 613v1M1014.5 613v1M27.5 614v1M178.5 614v1M714.5 614v2M742.5 614v1M776.5 614v1M819.5 614v1M939.5 614v1M1015.5 614v2M25 615.5h2M179.5 615v1M743.5 615v1M775.5 615v1M820.5 615v1M937 615.5h2M24.5 616v1M180 616.5h2M713.5 616v1M744 616.5h2M774.5 616v1M821.5 616v1M936.5 616v1M1016.5 616v1M23.5 617v1M182.5 617v1M712.5 617v1M746 617.5h3M773.5 617v1M822.5 617v1M935.5 617v1M1017.5 617v1M21 618.5h2M183 618.5h2M274 618.5h2M711.5 618v1M749 618.5h3M771 618.5h2M823 618.5h2M933 618.5h2M1018.5 618v2M20.5 619v1M185.5 619v1M271 619.5h3M276.5 619v1M710.5 619v1M752 619.5h2M769 619.5h2M825.5 619v1M931 619.5h2M19.5 620v1M186.5 620v1M269 620.5h2M277 620.5h2M333 620.5h3M709.5 620v1M754 620.5h2M766 620.5h3M826.5 620v1M929 620.5h2M1019.5 620v1M18.5 621v1M187 621.5h2M267 621.5h2M279.5 621v1M330 621.5h3M336 621.5h2M575 621.5h3M708.5 621v2M756 621.5h3M763 621.5h3M827.5 621v1M928.5 621v1M1020.5 621v1M17.5 622v1M189.5 622v1M266.5 622v1M280 622.5h4M328 622.5h2M338.5 622v1M571 622.5h4M578.5 622v1M759 622.5h4M828.5 622v1M927.5 622v1M1021.5 622v2M16.5 623v1M190.5 623v1M264 623.5h2M284 623.5h3M326 623.5h2M339 623.5h2M569 623.5h2M579 623.5h2M707.5 623v1M829.5 623v2M926.5 623v2M15.5 624v1M191 624.5h2M262 624.5h2M287 624.5h2M325.5 624v1M341.5 624v1M567 624.5h2M581.5 624v1M706.5 624v1M1022.5 624v1M13 625.5h2M193.5 625v1M261.5 625v1M289.5 625v1M324.5 625v1M342.5 625v1M565 625.5h2M582.5 625v1M705.5 625v1M830.5 625v1M925.5 625v1M1023.5 625v1M12.5 626v1M194 626.5h2M260.5 626v1M290 626.5h2M314.5 626v1M323.5 626v1M343 626.5h2M563 626.5h2M583.5 626v1M704.5 626v1M831.5 626v1M924.5 626v1M1024.5 626v1M11.5 627v1M196.5 627v1M258 627.5h2M292.5 627v1M312 627.5h2M315.5 627v1M322.5 627v1M345.5 627v1M561 627.5h2M584 627.5h2M703.5 627v1M832.5 627v1M923.5 627v1M1025.5 627v1M10.5 628v1M197.5 628v1M257.5 628v1M293 628.5h2M311.5 628v1M316 628.5h2M321.5 628v1M346.5 628v1M560.5 628v1M586.5 628v1M702.5 628v1M833 628.5h2M922.5 628v1M1026.5 628v1M9.5 629v1M198 629.5h2M256.5 629v1M295 629.5h2M309 629.5h2M318.5 629v1M320.5 629v1M347.5 629v1M559.5 629v1M587.5 629v1M701.5 629v1M835.5 629v1M921.5 629v2M1027.5 629v1M8.5 630v1M200.5 630v1M255.5 630v1M297 630.5h2M307 630.5h2M319.5 630v1M348.5 630v1M558.5 630v1M588.5 630v1M700.5 630v1M836.5 630v1M1028.5 630v1M201 631.5h2M253 631.5h2M299 631.5h2M304 631.5h3M349.5 631v1M557.5 631v1M589 631.5h2M699.5 631v1M837 631.5h2M920.5 631v1M1029.5 631v1M203 632.5h2M252.5 632v1M301 632.5h3M350.5 632v1M515 632.5h8M556.5 632v1M591.5 632v1M683 632.5h2M698.5 632v1M839.5 632v1M919.5 632v1M1030.5 632v1M205.5 633v1M251.5 633v1M351.5 633v1M514.5 633v1M523 633.5h2M535 633.5h3M555.5 633v1M592 633.5h2M681 633.5h2M685 633.5h2M697.5 633v1M840.5 633v1M918.5 633v2M1031.5 633v1M206 634.5h2M250.5 634v1M352.5 634v1M513.5 634v1M525 634.5h2M530 634.5h5M538 634.5h2M554.5 634v1M594.5 634v1M680.5 634v1M687 634.5h2M696.5 634v1M841.5 634v1M1032.5 634v1M208 635.5h2M249.5 635v1M353.5 635v1M512.5 635v1M527 635.5h3M540.5 635v1M552 635.5h2M595 635.5h2M678 635.5h2M689 635.5h3M695.5 635v1M842.5 635v1M917.5 635v1M1033 635.5h2M210.5 636v1M248.5 636v1M354.5 636v1M511.5 636v1M541 636.5h2M550 636.5h2M597.5 636v1M676 636.5h2M692 636.5h3M843.5 636v1M916.5 636v1M1035.5 636v1M211 637.5h2M247.5 637v1M355.5 637v1M510.5 637v1M543 637.5h7M598 637.5h2M673 637.5h3M844.5 637v1M915.5 637v2M1036.5 637v1M213 638.5h2M245 638.5h2M356.5 638v1M508 638.5h2M600 638.5h6M670 638.5h3M845.5 638v1M1037 638.5h2M215.5 639v1M244.5 639v1M357.5 639v2M507.5 639v1M606.5 639v1M667 639.5h3M846 639.5h2M914.5 639v1M1039 639.5h2M216 640.5h2M243.5 640v1M505 640.5h2M607 640.5h2M665 640.5h2M848.5 640v1M913.5 640v2M1041.5 640v1M218 641.5h2M242.5 641v1M358.5 641v1M504.5 641v1M609.5 641v1M663 641.5h2M849 641.5h2M1042 641.5h2M220 642.5h2M240 642.5h2M359.5 642v1M503.5 642v1M610 642.5h2M660 642.5h3M851 642.5h2M867 642.5h9M912.5 642v1M1044.5 642v1M1120 642.5h2M222 643.5h4M237 643.5h3M360.5 643v1M502.5 643v1M612 643.5h2M658 643.5h2M853 643.5h2M864 643.5h3M876 643.5h2M911.5 643v1M1045 643.5h2M1118 643.5h2M226 644.5h4M233 644.5h4M361.5 644v1M501.5 644v1M614 644.5h2M655 644.5h3M855 644.5h9M878 644.5h2M910.5 644v1M1047 644.5h2M1116 644.5h2M230 645.5h3M362.5 645v2M500.5 645v1M616 645.5h2M652 645.5h3M880 645.5h7M909.5 645v1M1049 645.5h2M1107 645.5h9M499.5 646v1M618 646.5h2M648 646.5h4M887 646.5h2M908.5 646v1M1051 646.5h2M1104 646.5h3M363.5 647v1M498.5 647v1M620 647.5h3M644 647.5h4M889 647.5h2M906 647.5h2M1053 647.5h2M1100 647.5h4M364.5 648v1M497.5 648v1M623 648.5h2M642 648.5h2M891.5 648v1M903 648.5h3M1055 648.5h2M1096 648.5h4M365 649.5h2M496.5 649v1M625 649.5h2M640 649.5h2M892.5 649v1M901 649.5h2M1057 649.5h3M1093 649.5h3M367.5 650v1M495.5 650v2M627 650.5h13M893.5 650v1M899 650.5h2M1060 650.5h2M1090 650.5h3M368 651.5h2M894.5 651v1M897 651.5h2M1062 651.5h2M1074 651.5h5M1088 651.5h2M370 652.5h3M494.5 652v1M895 652.5h2M1064 652.5h10M1079 652.5h9M373 653.5h4M493.5 653v1M377 654.5h2M491 654.5h2M379 655.5h2M462 655.5h14M489 655.5h2M381 656.5h2M458 656.5h4M476 656.5h13M383 657.5h2M434 657.5h24M385 658.5h5M431 658.5h3M390 659.5h15M427 659.5h4M405 660.5h22" fill="none" stroke="#008000" stroke-width="1" />
<path d="M986 596.5h5M927 597.5h3M975 597.5h11M991 597.5h2M104 598.5h21M727 598.5h3M923 598.5h4M930 598.5h2M966 598.5h9M993.5 598v1M46 599.5h58M125 599.5h3M725 599.5h2M730 599.5h2M921 599.5h2M932 599.5h2M961 599.5h5M994.5 599v1M8 600.5h38M128 600.5h3M721 600.5h4M732 600.5h2M906 600.5h15M934 600.5h27M995 600.5h2M131 601.5h3M644.5 601v2M710 601.5h11M734.5 601v1M903 601.5h3M997.5 601v2M134 602.5h2M643.5 602v1M709.5 602v2M735.5 602v2M901 602.5h2M136.5 603v1M262 603.5h2M642.5 603v1M645.5 603v2M794 603.5h5M900.5 603v2M998.5 603v3M137.5 604v1M261.5 604v1M264 604.5h2M641.5 604v2M708.5 604v2M736.5 604v1M792 604.5h2M799 604.5h3M138 605.5h2M260.5 605v1M266 605.5h2M646.5 605v3M737.5 605v1M790 605.5h2M802 605.5h2M899.5 605v1M140.5 606v1M258 606.5h2M268.5 606v1M521 606.5h8M640.5 606v1M707.5 606v2M738.5 606v2M789.5 606v2M804.5 606v1M898.5 606v2M999.5 606v3M141.5 607v1M257.5 607v1M269.5 607v1M519 607.5h2M529 607.5h2M639.5 607v1M805 607.5h2M1081.5 607v1M142.5 608v1M256.5 608v2M270.5 608v2M517 608.5h2M531.5 608v1M638.5 608v2M647.5 608v2M706.5 608v2M739.5 608v2M788.5 608v1M807.5 608v2M897.5 608v2M1079 608.5h2M1082.5 608v2M143.5 609v1M515 609.5h2M532.5 609v1M787.5 609v2M1000.5 609v2M1077 609.5h2M144.5 610v1M255.5 610v3M271.5 610v1M514.5 610v1M533.5 610v1M637.5 610v4M648.5 610v2M705.5 610v3M740.5 610v3M808.5 610v2M896.5 610v1M1075 610.5h2M1083.5 610v1M145.5 611v1M272.5 611v1M513.5 611v1M534.5 611v1M786.5 611v1M895.5 611v2M1001.5 611v3M1074.5 611v2M1084.5 611v1M146 612.5h2M273.5 612v1M436 612.5h2M512.5 612v1M535.5 612v1M649.5 612v2M785.5 612v2M809.5 612v2M1085.5 612v2M148.5 613v1M254.5 613v3M274.5 613v1M434 613.5h2M437.5 613v1M511.5 613v1M536.5 613v1M704.5 613v2M741.5 613v3M894.5 613v2M1073.5 613v2M149.5 614v1M275.5 614v1M432 614.5h2M438.5 614v3M510.5 614v1M537.5 614v2M636.5 614v3M650.5 614v1M784.5 614v1M810.5 614v2M1002.5 614v3M1086 614.5h3M150.5 615v1M276.5 615v1M430 615.5h2M509.5 615v1M651.5 615v1M703.5 615v3M783.5 615v2M893.5 615v2M1072.5 615v2M1089 615.5h3M151.5 616v1M253.5 616v3M277.5 616v2M430.5 616v1M508.5 616v1M538.5 616v3M652.5 616v2M742.5 616v3M811.5 616v2M1092.5 616v1M152.5 617v1M429.5 617v3M439.5 617v4M507.5 617v1M635.5 617v3M782.5 617v2M892.5 617v2M1003.5 617v3M1071.5 617v2M1093.5 617v1M153.5 618v1M278.5 618v1M506.5 618v2M653.5 618v1M702.5 618v3M812.5 618v2M1094.5 618v2M154.5 619v2M252.5 619v4M279.5 619v1M539.5 619v4M654.5 619v1M743.5 619v3M781.5 619v1M891.5 619v2M1070.5 619v1M280 620.5h3M428.5 620v2M505.5 620v1M634.5 620v4M655 620.5h2M780.5 620v2M813.5 620v2M1004.5 620v3M1069.5 620v2M1095.5 620v1M155.5 621v1M283 621.5h3M440.5 621v3M504.5 621v1M657 621.5h2M701.5 621v2M890.5 621v2M1096.5 621v1M156.5 622v1M286.5 622v1M427.5 622v3M503.5 622v2M659 622.5h2M744.5 622v3M779.5 622v2M814.5 622v3M1068.5 622v2M1097 622.5h9M157.5 623v1M251.5 623v3M287.5 623v1M325 623.5h2M540.5 623v3M661.5 623v2M700.5 623v3M889.5 623v2M1005.5 623v3M1106 623.5h3M158.5 624v1M288.5 624v1M324.5 624v2M327 624.5h2M441.5 624v3M502.5 624v2M633.5 624v2M778.5 624v1M1067.5 624v2M1109.5 624v1M159.5 625v1M289.5 625v1M329 625.5h2M426.5 625v3M662.5 625v1M745.5 625v2M777.5 625v1M815.5 625v2M888.5 625v3M1110.5 625v1M160.5 626v1M250.5 626v3M290.5 626v1M323.5 626v2M330.5 626v1M501.5 626v2M541.5 626v3M571.5 626v2M632.5 626v2M663.5 626v2M699.5 626v2M776.5 626v1M1006.5 626v2M1066.5 626v2M1111.5 626v1M161.5 627v2M291 627.5h2M331.5 627v2M442.5 627v3M572.5 627v1M746.5 627v2M775.5 627v2M816.5 627v2M1112.5 627v1M293 628.5h2M322.5 628v1M425.5 628v2M500.5 628v3M570.5 628v2M573.5 628v1M631.5 628v2M664.5 628v1M698.5 628v2M887.5 628v3M1007.5 628v3M1065.5 628v2M1113.5 628v1M162.5 629v1M249.5 629v3M295 629.5h2M321.5 629v2M332.5 629v2M542.5 629v3M574.5 629v1M665.5 629v1M672.5 629v2M747.5 629v2M774.5 629v1M817.5 629v3M1114.5 629v1M163.5 630v1M297 630.5h8M424.5 630v1M443.5 630v2M569.5 630v2M575.5 630v1M580 630.5h3M630.5 630v2M666.5 630v2M670 630.5h2M697.5 630v2M773.5 630v1M1064.5 630v2M1115.5 630v1M164.5 631v1M305 631.5h3M320.5 631v2M333.5 631v2M423.5 631v1M499.5 631v2M576 631.5h4M583.5 631v1M668 631.5h2M673.5 631v2M748.5 631v2M772.5 631v1M886.5 631v2M1008.5 631v2M1116.5 631v1M165.5 632v1M248.5 632v2M308 632.5h2M422.5 632v1M444.5 632v2M543.5 632v2M568.5 632v2M584.5 632v1M629.5 632v2M667.5 632v1M696.5 632v2M771.5 632v1M818.5 632v4M1063.5 632v1M1117.5 632v1M166.5 633v1M310 633.5h10M334.5 633v2M421.5 633v1M498.5 633v3M585.5 633v1M674.5 633v3M749.5 633v2M770.5 633v2M885.5 633v3M1009.5 633v2M1062.5 633v1M1118.5 633v1M167.5 634v1M247.5 634v3M420.5 634v1M445.5 634v3M544.5 634v2M567.5 634v2M586.5 634v1M628.5 634v2M695.5 634v2M1061.5 634v1M1119.5 634v1M168.5 635v1M335.5 635v2M418 635.5h2M587.5 635v1M750.5 635v2M769.5 635v1M1010.5 635v2M1060.5 635v2M1120.5 635v1M169.5 636v1M416 636.5h2M497.5 636v3M545.5 636v2M566.5 636v2M588 636.5h2M604.5 636v1M627.5 636v2M675.5 636v2M694.5 636v2M768.5 636v1M819.5 636v3M884.5 636v2M1121.5 636v1M170.5 637v1M246.5 637v2M336.5 637v3M414 637.5h2M446.5 637v2M590 637.5h2M603.5 637v1M605.5 637v2M751.5 637v2M767.5 637v1M1011.5 637v1M1059.5 637v1M171.5 638v1M413.5 638v1M546.5 638v2M565.5 638v2M592 638.5h2M601 638.5h2M626.5 638v1M676.5 638v2M693.5 638v2M765 638.5h2M883.5 638v2M1012.5 638v2M1058.5 638v1M172.5 639v2M245.5 639v2M411 639.5h2M447.5 639v2M496.5 639v3M594 639.5h3M600.5 639v1M606.5 639v1M625.5 639v2M752.5 639v2M763 639.5h2M820.5 639v3M1057.5 639v1M337.5 640v2M410.5 640v1M547.5 640v2M564.5 640v2M597 640.5h3M607.5 640v2M677.5 640v2M692.5 640v2M761 640.5h2M882.5 640v1M1013.5 640v2M1056.5 640v1M173.5 641v1M244.5 641v3M409.5 641v1M448.5 641v2M624.5 641v1M753.5 641v2M760.5 641v2M881.5 641v2M1055.5 641v2M174.5 642v1M338.5 642v2M408.5 642v2M495.5 642v4M548.5 642v2M563.5 642v2M608.5 642v1M623.5 642v1M678 642.5h2M691.5 642v2M821.5 642v4M1014.5 642v1M175.5 643v1M449.5 643v1M609.5 643v2M622.5 643v2M680.5 643v1M754.5 643v2M759.5 643v1M880.5 643v2M1015.5 643v2M1054.5 643v1M176.5 644v1M243.5 644v2M339.5 644v3M407.5 644v1M450.5 644v1M549.5 644v1M562.5 644v2M681 644.5h2M690.5 644v2M758.5 644v1M1053.5 644v1M177.5 645v1M406.5 645v1M451.5 645v1M550.5 645v1M610.5 645v1M621.5 645v1M683 645.5h2M755.5 645v2M757.5 645v2M878 645.5h2M1016.5 645v2M1052.5 645v1M178.5 646v1M242.5 646v2M405.5 646v2M452.5 646v1M494.5 646v3M551 646.5h2M561.5 646v2M611.5 646v1M620.5 646v1M685 646.5h3M689.5 646v2M822.5 646v2M876 646.5h2M1051.5 646v1M179.5 647v1M236 647.5h6M340.5 647v2M453.5 647v1M553.5 647v1M612.5 647v1M619.5 647v1M688.5 647v1M756.5 647v1M874 647.5h2M1017.5 647v1M1050.5 647v1M180.5 648v1M234 648.5h2M404.5 648v1M454.5 648v1M554.5 648v1M560.5 648v2M613.5 648v1M617 648.5h2M823.5 648v1M873.5 648v1M1018.5 648v2M1049.5 648v1M181 649.5h2M232 649.5h2M341.5 649v2M403.5 649v1M455 649.5h2M493.5 649v2M555 649.5h2M614.5 649v1M616.5 649v1M824.5 649v2M872.5 649v1M1048.5 649v1M183 650.5h2M230 650.5h2M402.5 650v2M457.5 650v1M557 650.5h3M615.5 650v1M871.5 650v1M1019.5 650v1M1047.5 650v1M185.5 651v1M227 651.5h3M342.5 651v2M458.5 651v1M492.5 651v2M559.5 651v1M825.5 651v1M870.5 651v2M1020.5 651v1M1046.5 651v1M186 652.5h2M224 652.5h3M401.5 652v2M459.5 652v1M826.5 652v1M1021.5 652v2M1045.5 652v1M188 653.5h2M220 653.5h4M343.5 653v1M460.5 653v1M491.5 653v2M827.5 653v2M869.5 653v1M1044.5 653v1M190.5 654v1M217 654.5h3M344.5 654v2M400.5 654v1M461.5 654v2M868.5 654v1M1022.5 654v1M1043.5 654v1M191 655.5h2M211 655.5h6M399.5 655v2M490.5 655v1M828.5 655v1M867.5 655v1M1023.5 655v1M1042.5 655v1M193 656.5h2M201 656.5h10M345.5 656v1M462.5 656v1M489.5 656v2M829.5 656v1M866.5 656v1M1024.5 656v1M1041.5 656v1M195 657.5h6M346 657.5h8M398.5 657v2M463.5 657v1M830.5 657v1M865.5 657v1M1025 657.5h2M1039 657.5h2M354 658.5h2M464 658.5h4M488.5 658v2M831 658.5h2M863 658.5h2M1027 658.5h2M1037 658.5h2M356 659.5h2M397.5 659v2M468 659.5h6M833.5 659v1M862.5 659v1M1029 659.5h2M1034 659.5h3M358 660.5h2M474 660.5h14M834 660.5h4M859 660.5h3M1031 660.5h3M360 661.5h2M394 661.5h3M838 661.5h9M855 661.5h4M362 662.5h2M388 662.5h6M847 662.5h8M364 663.5h24" fill="none" stroke="#ff1480" stroke-width="1" />
<rect x="8" y="511" width="1113" height="1" fill="#000"/>
<rect x="8" y="589" width="1113" height="2" fill="#000"/>
<polygon points="1112,100 1118,96 1118,103" fill="#9a9a9a"/>
<polygon points="1112,490 1118,486 1118,493" fill="#9a9a9a"/>
<polygon points="1112,516 1118,512 1118,519" fill="#9a9a9a"/>
<polygon points="1112,587 1118,583 1118,590" fill="#9a9a9a"/>
<polygon points="1112,595 1118,591 1118,598" fill="#9a9a9a"/>
<polygon points="1112,665 1118,661 1118,668" fill="#9a9a9a"/>
</g></svg>
<div class="plab" style="left:13px;top:81px;letter-spacing:-1px">5分足</div>
<div class="plab" style="left:13px;top:515px;letter-spacing:-.2px">RSI(14)</div>
<div class="plab" style="left:13px;top:593px;letter-spacing:.2px">RCI(12,26)</div>
<i class="tk" style="left:67px"></i><i class="tk" style="left:190px"></i><i class="tk" style="left:257px"></i><i class="tk" style="left:324px"></i><i class="tk" style="left:392px"></i><i class="tk" style="left:459px"></i><i class="tk" style="left:526px"></i><i class="tk" style="left:593px"></i><i class="tk" style="left:660px"></i><i class="tk" style="left:728px"></i><i class="tk" style="left:795px"></i><i class="tk" style="left:862px"></i><i class="tk" style="left:929px"></i><i class="tk" style="left:1086px"></i><i class="tk" style="left:123px"></i><i class="tk" style="left:1002px"></i>
<div id="ovbg"></div>
<svg style="left:0;top:0" width="1153" height="715" viewBox="0 0 1153 715"><polygon points="3,709 3.0,707.5 6.0,707.5 9.0,707.5 12.0,707.5 15.0,707.5 18.0,707.5 21.0,707.5 24.0,707.5 27.0,707.5 30.0,707.5 33.0,707.5 36.0,707.5 39.0,707.5 42.0,707.5 45.0,707.5 48.0,707.5 51.0,707.5 54.0,707.5 57.0,707.5 60.0,707.5 63.0,707.5 66.0,707.5 69.0,707.5 72.0,707.5 75.0,707.5 78.0,707.5 81.0,707.5 84.0,707.5 87.0,707.5 90.0,707.5 93.0,707.5 96.0,707.5 99.0,707.5 102.0,707.5 105.0,707.5 108.0,707.5 111.0,707.5 114.0,707.5 117.0,707.5 120.0,707.5 123.0,707.5 126.0,707.5 129.0,707.5 132.0,707.5 135.0,707.5 138.0,707.5 141.0,707.5 144.0,707.5 147.0,707.5 150.0,707.5 152.0,706.5 155.0,706.5 158.1,706.5 161.1,706.5 164.1,706.5 167.1,705.9 170.2,706.5 173.2,706.5 176.2,706.5 179.2,705.9 182.3,706.5 185.3,706.5 188.3,706.5 191.3,706.5 194.4,706.5 197.4,706.5 200.4,706.5 203.4,706.5 206.5,705.9 209.5,706.5 212.5,706.5 215.5,706.5 218.6,706.5 221.6,706.5 224.6,706.5 227.6,706.5 230.7,706.5 233.7,706.5 236.7,705.9 239.7,706.5 242.8,706.5 245.8,706.5 248.8,706.5 251.8,705.9 254.9,706.5 257.9,706.5 260.9,705.9 263.9,706.5 267.0,706.5 270.0,706.5 272.0,705.5 275.0,705.5 278.1,704.9 281.1,705.5 284.1,705.5 287.2,705.5 290.2,705.9 293.2,704.9 296.3,705.5 299.3,705.5 302.3,705.9 305.4,705.9 308.4,705.5 311.4,705.5 314.5,705.5 317.5,705.5 320.5,705.5 323.5,705.5 326.6,705.5 329.6,704.9 332.6,705.9 335.7,705.5 338.7,705.9 341.7,705.5 344.8,705.5 347.8,705.5 350.8,704.9 353.9,705.5 356.9,705.5 359.9,705.5 363.0,705.5 366.0,705.9 368.0,701.5 372.0,701.0 375.0,701.5 378.0,701.2 381.0,702.9 384.0,701.8 387.1,701.8 390.2,701.8 393.2,702.4 396.3,702.0 399.4,702.4 402.5,702.0 405.5,701.1 408.6,701.1 411.7,701.1 414.8,701.9 417.8,701.0 420.9,701.0 424.0,701.0 427.2,702.1 430.4,701.6 433.6,700.7 436.8,700.1 440.0,701.0 443.3,700.7 446.7,701.6 450.0,701.5 453.3,700.9 456.7,702.0 460.0,700.6 463.3,701.3 466.7,700.4 470.0,700.3 473.3,700.5 476.7,700.8 480.0,701.0 483.3,700.4 486.7,700.3 490.0,701.5 493.3,700.7 496.7,700.6 500.0,701.3 503.0,700.0 506.0,699.7 509.0,700.5 512.0,700.6 515.0,700.1 518.0,699.8 521.0,700.6 524.0,700.1 527.0,701.1 530.0,700.1 533.0,700.7 536.0,700.7 539.0,700.7 542.0,700.7 545.0,700.7 548.0,700.7 551.0,700.8 554.0,700.8 557.0,701.6 560.0,702.0 563.1,700.8 566.3,700.8 569.4,700.8 572.6,700.7 575.7,700.7 578.9,700.2 582.0,699.9 585.1,701.2 588.3,701.9 591.4,701.9 594.6,701.1 597.7,700.6 600.9,699.8 604.0,701.8 607.0,700.6 610.0,701.5 613.0,699.9 616.0,700.2 619.0,700.3 622.0,700.3 625.0,700.3 628.0,700.9 631.0,701.7 634.0,700.4 637.0,701.0 640.0,701.0 643.3,700.9 646.7,700.9 650.0,701.6 653.3,700.7 656.7,700.7 660.0,701.1 663.1,701.8 666.1,700.6 669.2,700.6 672.2,700.6 675.3,701.8 678.3,700.6 681.4,699.8 684.4,700.6 687.5,701.1 690.5,701.8 693.6,700.6 696.6,700.6 699.7,700.6 702.7,701.8 705.8,700.1 708.8,700.6 711.9,700.6 714.9,701.1 718.0,701.8 720.0,699.3 723.1,699.6 726.2,698.8 729.2,698.8 732.3,699.6 735.4,699.6 738.5,699.6 741.5,699.6 744.6,698.8 747.7,698.8 750.8,698.8 753.8,698.8 756.9,699.3 760.0,698.8 763.3,699.8 766.7,699.3 770.0,698.7 773.0,699.4 776.0,699.4 779.0,698.5 782.0,699.8 785.0,699.2 788.0,698.4 791.0,699.1 794.0,698.2 797.0,699.0 800.0,698.9 803.0,698.9 806.0,698.0 809.0,698.6 812.0,697.5 815.4,697.7 818.8,696.8 822.2,695.7 825.6,695.3 829.0,695.0 832.0,696.2 835.0,695.7 838.0,696.8 841.0,695.5 844.0,695.4 847.0,694.9 850.0,695.3 853.3,695.2 856.7,694.3 860.0,695.8 863.3,695.5 866.7,694.9 870.0,694.8 873.0,694.9 876.0,695.7 879.0,695.0 882.0,695.1 885.0,696.4 888.0,695.7 891.0,696.1 894.0,695.9 897.0,695.9 900.0,695.5 903.0,695.5 906.0,695.5 909.0,695.4 912.0,696.2 915.0,695.4 918.0,695.9 921.0,695.4 924.0,696.1 927.0,696.5 930.0,696.5 933.0,695.4 936.0,696.2 939.0,696.0 942.0,695.6 945.0,695.6 948.0,695.2 951.0,695.8 954.0,696.7 957.0,695.9 960.0,695.5 963.1,696.6 966.2,696.1 969.2,695.7 972.3,697.0 975.4,695.8 978.5,696.4 981.5,696.4 984.6,696.5 987.7,696.6 990.8,696.6 993.8,696.7 996.9,697.9 1000.0,697.6 1003.3,696.9 1006.7,698.3 1010.0,698.4 1013.3,697.8 1016.7,697.3 1020.0,696.6 1023.3,695.6 1026.7,695.4 1030.0,696.0 1033.0,695.8 1036.0,695.7 1039.0,695.5 1042.0,694.6 1045.0,695.2 1048.0,694.8 1051.0,695.4 1054.0,695.6 1057.0,695.7 1060.0,695.8 1063.0,695.5 1066.0,695.3 1069.0,694.2 1072.0,694.8 1075.0,695.7 1078.3,695.3 1081.7,695.2 1085.0,694.7 1088.0,694.6 1091.0,694.7 1094.0,694.3 1097.0,694.4 1100.0,694.3 1103.3,694.6 1106.7,692.5 1110.0,692.8 1113.3,692.4 1116.7,693.1 1120.0,692.2 1123.0,693.0 1126.0,692.2 1129.0,692.1 1132.0,692.9 1135.0,693.7 1138.0,692.9 1141.0,694.1 1144.0,692.9 1147.0,692.8 1150.0,692.8 1153,692.8 1153,709" fill="#696969"/></svg>
<div id="thumb"></div>
<svg style="left:0;top:0" width="1153" height="715" viewBox="0 0 1153 715"><polyline points="3.0,707.5 6.0,707.5 9.0,707.5 12.0,707.5 15.0,707.5 18.0,707.5 21.0,707.5 24.0,707.5 27.0,707.5 30.0,707.5 33.0,707.5 36.0,707.5 39.0,707.5 42.0,707.5 45.0,707.5 48.0,707.5 51.0,707.5 54.0,707.5 57.0,707.5 60.0,707.5 63.0,707.5 66.0,707.5 69.0,707.5 72.0,707.5 75.0,707.5 78.0,707.5 81.0,707.5 84.0,707.5 87.0,707.5 90.0,707.5 93.0,707.5 96.0,707.5 99.0,707.5 102.0,707.5 105.0,707.5 108.0,707.5 111.0,707.5 114.0,707.5 117.0,707.5 120.0,707.5 123.0,707.5 126.0,707.5 129.0,707.5 132.0,707.5 135.0,707.5 138.0,707.5 141.0,707.5 144.0,707.5 147.0,707.5 150.0,707.5 152.0,706.5 155.0,706.5 158.1,706.5 161.1,706.5 164.1,706.5 167.1,705.9 170.2,706.5 173.2,706.5 176.2,706.5 179.2,705.9 182.3,706.5 185.3,706.5 188.3,706.5 191.3,706.5 194.4,706.5 197.4,706.5 200.4,706.5 203.4,706.5 206.5,705.9 209.5,706.5 212.5,706.5 215.5,706.5 218.6,706.5 221.6,706.5 224.6,706.5 227.6,706.5 230.7,706.5 233.7,706.5 236.7,705.9 239.7,706.5 242.8,706.5 245.8,706.5 248.8,706.5 251.8,705.9 254.9,706.5 257.9,706.5 260.9,705.9 263.9,706.5 267.0,706.5 270.0,706.5 272.0,705.5 275.0,705.5 278.1,704.9 281.1,705.5 284.1,705.5 287.2,705.5 290.2,705.9 293.2,704.9 296.3,705.5 299.3,705.5 302.3,705.9 305.4,705.9 308.4,705.5 311.4,705.5 314.5,705.5 317.5,705.5 320.5,705.5 323.5,705.5 326.6,705.5 329.6,704.9 332.6,705.9 335.7,705.5 338.7,705.9 341.7,705.5 344.8,705.5 347.8,705.5 350.8,704.9 353.9,705.5 356.9,705.5 359.9,705.5 363.0,705.5 366.0,705.9 368.0,701.5 372.0,701.0 375.0,701.5 378.0,701.2 381.0,702.9 384.0,701.8 387.1,701.8 390.2,701.8 393.2,702.4 396.3,702.0 399.4,702.4 402.5,702.0 405.5,701.1 408.6,701.1 411.7,701.1 414.8,701.9 417.8,701.0 420.9,701.0 424.0,701.0 427.2,702.1 430.4,701.6 433.6,700.7 436.8,700.1 440.0,701.0 443.3,700.7 446.7,701.6 450.0,701.5 453.3,700.9 456.7,702.0 460.0,700.6 463.3,701.3 466.7,700.4 470.0,700.3 473.3,700.5 476.7,700.8 480.0,701.0 483.3,700.4 486.7,700.3 490.0,701.5 493.3,700.7 496.7,700.6 500.0,701.3 503.0,700.0 506.0,699.7 509.0,700.5 512.0,700.6 515.0,700.1 518.0,699.8 521.0,700.6 524.0,700.1 527.0,701.1 530.0,700.1 533.0,700.7 536.0,700.7 539.0,700.7 542.0,700.7 545.0,700.7 548.0,700.7 551.0,700.8 554.0,700.8 557.0,701.6 560.0,702.0 563.1,700.8 566.3,700.8 569.4,700.8 572.6,700.7 575.7,700.7 578.9,700.2 582.0,699.9 585.1,701.2 588.3,701.9 591.4,701.9 594.6,701.1 597.7,700.6 600.9,699.8 604.0,701.8 607.0,700.6 610.0,701.5 613.0,699.9 616.0,700.2 619.0,700.3 622.0,700.3 625.0,700.3 628.0,700.9 631.0,701.7 634.0,700.4 637.0,701.0 640.0,701.0 643.3,700.9 646.7,700.9 650.0,701.6 653.3,700.7 656.7,700.7 660.0,701.1 663.1,701.8 666.1,700.6 669.2,700.6 672.2,700.6 675.3,701.8 678.3,700.6 681.4,699.8 684.4,700.6 687.5,701.1 690.5,701.8 693.6,700.6 696.6,700.6 699.7,700.6 702.7,701.8 705.8,700.1 708.8,700.6 711.9,700.6 714.9,701.1 718.0,701.8 720.0,699.3 723.1,699.6 726.2,698.8 729.2,698.8 732.3,699.6 735.4,699.6 738.5,699.6 741.5,699.6 744.6,698.8 747.7,698.8 750.8,698.8 753.8,698.8 756.9,699.3 760.0,698.8 763.3,699.8 766.7,699.3 770.0,698.7 773.0,699.4 776.0,699.4 779.0,698.5 782.0,699.8 785.0,699.2 788.0,698.4 791.0,699.1 794.0,698.2 797.0,699.0 800.0,698.9 803.0,698.9 806.0,698.0 809.0,698.6 812.0,697.5 815.4,697.7 818.8,696.8 822.2,695.7 825.6,695.3 829.0,695.0 832.0,696.2 835.0,695.7 838.0,696.8 841.0,695.5 844.0,695.4 847.0,694.9 850.0,695.3 853.3,695.2 856.7,694.3 860.0,695.8 863.3,695.5 866.7,694.9 870.0,694.8 873.0,694.9 876.0,695.7 879.0,695.0 882.0,695.1 885.0,696.4 888.0,695.7 891.0,696.1 894.0,695.9 897.0,695.9 900.0,695.5 903.0,695.5 906.0,695.5 909.0,695.4 912.0,696.2 915.0,695.4 918.0,695.9 921.0,695.4 924.0,696.1 927.0,696.5 930.0,696.5 933.0,695.4 936.0,696.2 939.0,696.0 942.0,695.6 945.0,695.6 948.0,695.2 951.0,695.8 954.0,696.7 957.0,695.9 960.0,695.5 963.1,696.6 966.2,696.1 969.2,695.7 972.3,697.0 975.4,695.8 978.5,696.4 981.5,696.4 984.6,696.5 987.7,696.6 990.8,696.6 993.8,696.7 996.9,697.9 1000.0,697.6 1003.3,696.9 1006.7,698.3 1010.0,698.4 1013.3,697.8 1016.7,697.3 1020.0,696.6 1023.3,695.6 1026.7,695.4 1030.0,696.0 1033.0,695.8 1036.0,695.7 1039.0,695.5 1042.0,694.6 1045.0,695.2 1048.0,694.8 1051.0,695.4 1054.0,695.6 1057.0,695.7 1060.0,695.8 1063.0,695.5 1066.0,695.3 1069.0,694.2 1072.0,694.8 1075.0,695.7 1078.3,695.3 1081.7,695.2 1085.0,694.7 1088.0,694.6 1091.0,694.7 1094.0,694.3 1097.0,694.4 1100.0,694.3 1103.3,694.6 1106.7,692.5 1110.0,692.8 1113.3,692.4 1116.7,693.1 1120.0,692.2 1123.0,693.0 1126.0,692.2 1129.0,692.1 1132.0,692.9 1135.0,693.7 1138.0,692.9 1141.0,694.1 1144.0,692.9 1147.0,692.8 1150.0,692.8 1153,692.8" fill="none" stroke="#fff" stroke-width="1.2"/></svg>
<div id="gripm"><i style="left:512px"></i><i style="left:515px"></i><i style="left:518px"></i></div>
<div id="ovl"></div><div id="ovl2"></div>
<div id="left0"></div>
<div id="bot"></div><div style="left:0;top:711px;width:5px;height:4px;background:#f0f0f0"></div><div style="left:1149px;top:711px;width:4px;height:4px;background:#b08020"></div>
<svg id="tsvg" style="left:0;top:0" width="1153" height="715" viewBox="0 0 1153 715" font-family="Liberation Sans, IPAGothic, sans-serif"><text x="1122.94 1128.94 1134.94 1140.94 1146.94" y="93.9" font-size="11" fill="#fff">50700</text><text x="1122.94 1128.94 1134.94 1140.94 1146.94" y="152.5" font-size="11" fill="#fff">50600</text><text x="1122.94 1128.94 1134.94 1140.94 1146.94" y="211.1" font-size="11" fill="#fff">50500</text><text x="1122.94 1128.94 1134.94 1140.94 1146.94" y="269.7" font-size="11" fill="#fff">50400</text><text x="1122.94 1128.94 1134.94 1140.94 1146.94" y="328.3" font-size="11" fill="#fff">50300</text><text x="1122.94 1128.94 1134.94 1140.94 1146.94" y="386.9" font-size="11" fill="#fff">50200</text><text x="1122.94 1128.94 1134.94 1140.94 1146.94" y="445.5" font-size="11" fill="#fff">50100</text><text x="1122.94 1128.94 1134.94 1140.94 1146.94" y="504.1" font-size="11" fill="#fff">50000</text><text x="1122.94 1128.94 1136.47 1140.94 1146.94" y="534.3" font-size="11" fill="#fff">80.00</text><text x="1122.94 1128.94 1136.47 1140.94 1146.94" y="576.3" font-size="11" fill="#fff">20.00</text><text x="1122.94 1128.94 1136.47 1140.94 1146.94" y="605.3" font-size="11" fill="#fff">80.00</text><text x="1122.94 1130.47 1134.94 1140.94" y="634.3" font-size="11" fill="#fff">0.00</text><text x="1124.17 1128.94 1134.94 1142.47 1146.94" y="662.3" font-size="11" fill="#fff">-80.0</text><text x="61.44 67.44" y="684.3" font-size="11" fill="#fff">15</text><text x="184.44 190.44" y="684.3" font-size="11" fill="#fff">18</text><text x="251.44 257.44" y="684.3" font-size="11" fill="#fff">19</text><text x="318.44 324.44" y="684.3" font-size="11" fill="#fff">20</text><text x="386.44 392.44" y="684.3" font-size="11" fill="#fff">21</text><text x="453.44 459.44" y="684.3" font-size="11" fill="#fff">22</text><text x="520.44 526.44" y="684.3" font-size="11" fill="#fff">23</text><text x="590.44" y="684.3" font-size="11" fill="#fff">0</text><text x="657.44" y="684.3" font-size="11" fill="#fff">1</text><text x="725.44" y="684.3" font-size="11" fill="#fff">2</text><text x="792.44" y="684.3" font-size="11" fill="#fff">3</text><text x="859.44" y="684.3" font-size="11" fill="#fff">4</text><text x="926.44" y="684.3" font-size="11" fill="#fff">5</text><text x="1080.44 1086.44" y="684.3" font-size="11" fill="#fff">10</text><text x="99.44 105.44 112.97 117.44 123.44 130.67 135.44 141.44" y="684.3" font-size="11" fill="#fff" font-weight="bold">27/17:00</text><text x="981.44 987.44 994.97 999.44 1006.67 1011.44 1017.44" y="684.3" font-size="11" fill="#fff" font-weight="bold">28/8:45</text><text x="1102.44 1108.44 1115.97 1120.44 1126.44 1133.97 1138.44 1144.44" y="42.3" font-size="11" fill="#d2dcc8">25/10/30</text></svg>
<div id="info"><div class="l" style="color:#000;top:13.1px;letter-spacing:-.15px">始値</div><div class="l" style="color:#000;top:26.6px;letter-spacing:-.15px">高値</div><div class="l" style="color:#000;top:40.0px;letter-spacing:-.15px">安値</div><div class="l" style="color:#000;top:53.5px;letter-spacing:-.15px">終値</div><div class="l" style="color:#ff00ff;top:67.0px;letter-spacing:-.9px">Vwap</div><div class="l" style="color:#6495ed;top:80.5px;letter-spacing:-.9px">RSI</div><div class="l" style="color:#ff1480;top:93.9px;letter-spacing:-.9px">RCI1</div><div class="l" style="color:#008000;top:107.4px;letter-spacing:-.9px">RCI2</div><div class="l" style="color:#ff0000;top:120.9px;letter-spacing:-.15px">平均1</div><div class="l" style="color:#3c64ff;top:134.3px;letter-spacing:-.15px">平均2</div><div class="l" style="color:#008000;top:147.8px;letter-spacing:-.15px">平均3</div><div class="l" style="color:#b4b4b4;top:161.3px;letter-spacing:-.15px">標準偏差+2</div><div class="l" style="color:#b4b4b4;top:174.7px;letter-spacing:-.15px">標準偏差+1</div><div class="l" style="color:#0000ff;top:188.2px;letter-spacing:-.15px">移動平均線</div><div class="l" style="color:#b4b4b4;top:201.7px;letter-spacing:-.15px">標準偏差-1</div><div class="l" style="color:#b4b4b4;top:215.2px;letter-spacing:-.15px">標準偏差-2</div></div>
<svg id="tsvg2" style="left:0;top:0" width="1153" height="715" viewBox="0 0 1153 715" font-family="Liberation Sans, IPAGothic, sans-serif"><text x="113.44 119.44 125.44 131.44 138.97 143.44 149.44 156.97 161.44 167.44 174.97 179.44 185.44 192.97 197.44 203.44 210.97 215.44 221.44" y="460.3" font-size="11" fill="#000">2025/10/28 23:55:00</text><text x="197.44 203.44 209.44 215.44 221.44" y="473.9" font-size="11" fill="#000">50395</text><text x="197.44 203.44 209.44 215.44 221.44" y="487.4" font-size="11" fill="#000">50420</text><text x="197.44 203.44 209.44 215.44 221.44" y="500.8" font-size="11" fill="#000">50380</text><text x="197.44 203.44 209.44 215.44 221.44" y="514.3" font-size="11" fill="#000">50385</text><text x="179.44 185.44 191.44 197.44 203.44 210.97 215.44 221.44" y="527.8" font-size="11" fill="#000">50494.47</text><text x="197.44 203.44 210.97 215.44 221.44" y="541.2" font-size="11" fill="#000">36.36</text><text x="192.67 197.44 203.44 210.97 215.44 221.44" y="554.7" font-size="11" fill="#000">-18.36</text><text x="198.67 203.44 210.97 215.44 221.44" y="568.2" font-size="11" fill="#000">-0.15</text><text x="179.44 185.44 191.44 197.44 203.44 210.97 215.44 221.44" y="581.7" font-size="11" fill="#000">50431.00</text><text x="179.44 185.44 191.44 197.44 203.44 210.97 215.44 221.44" y="595.1" font-size="11" fill="#000">50443.20</text><text x="179.44 185.44 191.44 197.44 203.44 210.97 215.44 221.44" y="608.6" font-size="11" fill="#000">50493.20</text><text x="179.44 185.44 191.44 197.44 203.44 210.97 215.44 221.44" y="622.1" font-size="11" fill="#000">50498.04</text><text x="179.44 185.44 191.44 197.44 203.44 210.97 215.44 221.44" y="635.5" font-size="11" fill="#000">50470.62</text><text x="179.44 185.44 191.44 197.44 203.44 210.97 215.44 221.44" y="649.0" font-size="11" fill="#000">50443.20</text><text x="179.44 185.44 191.44 197.44 203.44 210.97 215.44 221.44" y="662.5" font-size="11" fill="#000">50415.78</text><text x="179.44 185.44 191.44 197.44 203.44 210.97 215.44 221.44" y="676.0" font-size="11" fill="#000">50388.36</text></svg>
</div>
</body></html>
